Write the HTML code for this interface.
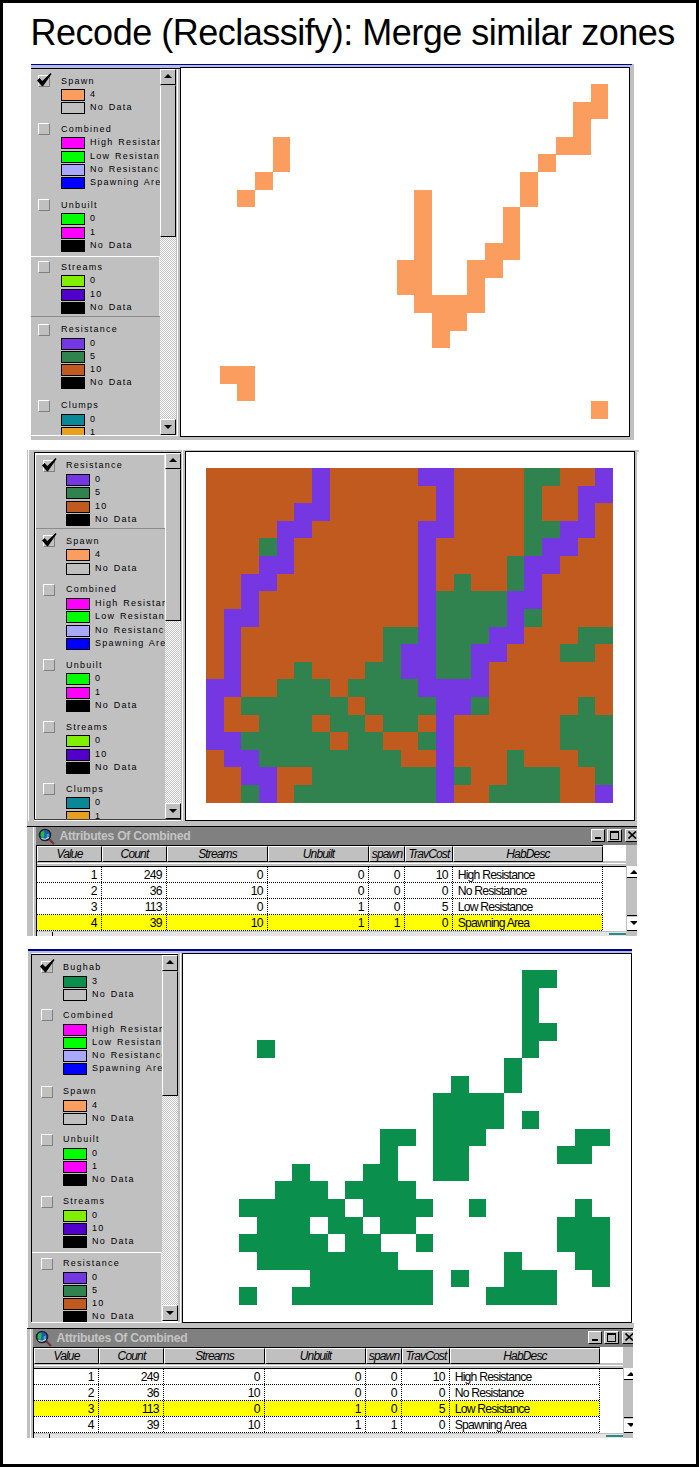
<!DOCTYPE html><html><head><meta charset="utf-8"><style>
html,body{margin:0;padding:0;}
body{width:699px;height:1467px;position:relative;overflow:hidden;background:#fff;font-family:"Liberation Sans",sans-serif;}
div{position:absolute;box-sizing:content-box;}
.t,.lt,.tt,.dt{white-space:nowrap;color:#000;}
.lt{font-size:9px;}
.dt{font-size:12.2px;line-height:12.2px;letter-spacing:-0.8px;}
.hd{background:#c0c0c0;}
.hi{text-align:center;font-style:italic;font-size:12px;letter-spacing:-0.85px;white-space:nowrap;color:#000;}

</style></head><body>
<div style="left:0px;top:0px;width:699px;height:3px;background:#000;"></div>
<div style="left:0px;top:1464px;width:699px;height:3px;background:#000;"></div>
<div style="left:0px;top:0px;width:3px;height:1467px;background:#000;"></div>
<div style="left:696px;top:0px;width:3px;height:1467px;background:#000;"></div>
<div class="t" style="left:30.6px;top:14.93px;font-size:36px;line-height:36px;letter-spacing:-0.5px">Recode (Reclassify): Merge similar zones</div>
<div style="left:630px;top:64px;width:4px;height:376px;background:#c0c0c0;"></div>
<div style="left:31px;top:64px;width:601px;height:1px;background:#000080;"></div>
<div style="left:31px;top:65px;width:601px;height:3px;background:#b4bce8;"></div>
<div style="left:31px;top:68px;width:599px;height:1px;background:#000;"></div>
<div style="left:31px;top:69px;width:129px;height:366px;background:#c0c0c0;overflow:hidden">
<div style="left:7px;top:5.8px;width:10px;height:10px;background:#c0c0c0;border-top:1px solid #fff;border-left:1px solid #fff;border-right:1px solid #808080;border-bottom:1px solid #808080"></div>
<svg style="position:absolute;left:6px;top:3.8px" width="15" height="14" viewBox="0 0 15 14"><path d="M0,7.6 L2.6,5.0 L5.3,8.0 L13.6,0 L14.5,0.9 L6.0,13.2 L5.0,13.2 Z" fill="#000"/></svg>
<div class="lt" style="left:30px;top:7.58px;font-size:9px;line-height:9px;letter-spacing:1.25px;word-spacing:1px">Spawn</div>
<div style="left:30px;top:20.1px;width:22px;height:10px;background:#fa9d5e;border:1px solid #000"></div>
<div class="lt" style="left:59px;top:21.28px;font-size:9px;line-height:9px;letter-spacing:1.25px;word-spacing:1px">4</div>
<div style="left:30px;top:33.3px;width:22px;height:10px;background:#c0c0c0;border:1px solid #000"></div>
<div class="lt" style="left:59px;top:34.45px;font-size:9px;line-height:9px;letter-spacing:1.25px;word-spacing:1px">No Data</div>
<div style="left:7px;top:54.0px;width:10px;height:10px;background:#c0c0c0;border-top:1px solid #fff;border-left:1px solid #fff;border-right:1px solid #808080;border-bottom:1px solid #808080"></div>
<div class="lt" style="left:30px;top:55.78px;font-size:9px;line-height:9px;letter-spacing:1.25px;word-spacing:1px">Combined</div>
<div style="left:30px;top:68.3px;width:22px;height:10px;background:#ff00ff;border:1px solid #000"></div>
<div class="lt" style="left:59px;top:69.48px;font-size:9px;line-height:9px;letter-spacing:1.25px;word-spacing:1px">High Resistance</div>
<div style="left:30px;top:81.5px;width:22px;height:10px;background:#00ff00;border:1px solid #000"></div>
<div class="lt" style="left:59px;top:82.65px;font-size:9px;line-height:9px;letter-spacing:1.25px;word-spacing:1px">Low Resistance</div>
<div style="left:30px;top:94.6px;width:22px;height:10px;background:#a8a8ff;border:1px solid #000"></div>
<div class="lt" style="left:59px;top:95.82px;font-size:9px;line-height:9px;letter-spacing:1.25px;word-spacing:1px">No Resistance</div>
<div style="left:30px;top:107.8px;width:22px;height:10px;background:#0000ff;border:1px solid #000"></div>
<div class="lt" style="left:59px;top:108.99px;font-size:9px;line-height:9px;letter-spacing:1.25px;word-spacing:1px">Spawning Area</div>
<div style="left:7px;top:130.0px;width:10px;height:10px;background:#c0c0c0;border-top:1px solid #fff;border-left:1px solid #fff;border-right:1px solid #808080;border-bottom:1px solid #808080"></div>
<div class="lt" style="left:30px;top:131.78px;font-size:9px;line-height:9px;letter-spacing:1.25px;word-spacing:1px">Unbuilt</div>
<div style="left:30px;top:144.3px;width:22px;height:10px;background:#00ff00;border:1px solid #000"></div>
<div class="lt" style="left:59px;top:145.48px;font-size:9px;line-height:9px;letter-spacing:1.25px;word-spacing:1px">0</div>
<div style="left:30px;top:157.5px;width:22px;height:10px;background:#ff00ff;border:1px solid #000"></div>
<div class="lt" style="left:59px;top:158.65px;font-size:9px;line-height:9px;letter-spacing:1.25px;word-spacing:1px">1</div>
<div style="left:30px;top:170.6px;width:22px;height:10px;background:#000000;border:1px solid #000"></div>
<div class="lt" style="left:59px;top:171.82px;font-size:9px;line-height:9px;letter-spacing:1.25px;word-spacing:1px">No Data</div>
<div style="left:0px;top:186.5px;width:129px;height:1px;background:#fff"></div>
<div style="left:0px;top:247.0px;width:129px;height:1px;background:#8c8c8c"></div>
<div style="left:128px;top:186.5px;width:1px;height:60.5px;background:#e8e8e8"></div>
<div style="left:7px;top:192.0px;width:10px;height:10px;background:#c0c0c0;border-top:1px solid #fff;border-left:1px solid #fff;border-right:1px solid #808080;border-bottom:1px solid #808080"></div>
<div class="lt" style="left:30px;top:193.78px;font-size:9px;line-height:9px;letter-spacing:1.25px;word-spacing:1px">Streams</div>
<div style="left:30px;top:206.3px;width:22px;height:10px;background:#80f000;border:1px solid #000"></div>
<div class="lt" style="left:59px;top:207.48px;font-size:9px;line-height:9px;letter-spacing:1.25px;word-spacing:1px">0</div>
<div style="left:30px;top:219.5px;width:22px;height:10px;background:#5000c8;border:1px solid #000"></div>
<div class="lt" style="left:59px;top:220.65px;font-size:9px;line-height:9px;letter-spacing:1.25px;word-spacing:1px">10</div>
<div style="left:30px;top:232.6px;width:22px;height:10px;background:#000000;border:1px solid #000"></div>
<div class="lt" style="left:59px;top:233.82px;font-size:9px;line-height:9px;letter-spacing:1.25px;word-spacing:1px">No Data</div>
<div style="left:7px;top:254.5px;width:10px;height:10px;background:#c0c0c0;border-top:1px solid #fff;border-left:1px solid #fff;border-right:1px solid #808080;border-bottom:1px solid #808080"></div>
<div class="lt" style="left:30px;top:256.28px;font-size:9px;line-height:9px;letter-spacing:1.25px;word-spacing:1px">Resistance</div>
<div style="left:30px;top:268.8px;width:22px;height:10px;background:#7537e2;border:1px solid #000"></div>
<div class="lt" style="left:59px;top:269.98px;font-size:9px;line-height:9px;letter-spacing:1.25px;word-spacing:1px">0</div>
<div style="left:30px;top:282.0px;width:22px;height:10px;background:#30824f;border:1px solid #000"></div>
<div class="lt" style="left:59px;top:283.15px;font-size:9px;line-height:9px;letter-spacing:1.25px;word-spacing:1px">5</div>
<div style="left:30px;top:295.1px;width:22px;height:10px;background:#c05a1f;border:1px solid #000"></div>
<div class="lt" style="left:59px;top:296.32px;font-size:9px;line-height:9px;letter-spacing:1.25px;word-spacing:1px">10</div>
<div style="left:30px;top:308.3px;width:22px;height:10px;background:#000000;border:1px solid #000"></div>
<div class="lt" style="left:59px;top:309.49px;font-size:9px;line-height:9px;letter-spacing:1.25px;word-spacing:1px">No Data</div>
<div style="left:7px;top:330.5px;width:10px;height:10px;background:#c0c0c0;border-top:1px solid #fff;border-left:1px solid #fff;border-right:1px solid #808080;border-bottom:1px solid #808080"></div>
<div class="lt" style="left:30px;top:332.28px;font-size:9px;line-height:9px;letter-spacing:1.25px;word-spacing:1px">Clumps</div>
<div style="left:30px;top:344.8px;width:22px;height:10px;background:#0a8898;border:1px solid #000"></div>
<div class="lt" style="left:59px;top:345.98px;font-size:9px;line-height:9px;letter-spacing:1.25px;word-spacing:1px">0</div>
<div style="left:30px;top:358.0px;width:22px;height:10px;background:#e8a020;border:1px solid #000"></div>
<div class="lt" style="left:59px;top:359.15px;font-size:9px;line-height:9px;letter-spacing:1.25px;word-spacing:1px">1</div>
<div style="left:30px;top:371.1px;width:22px;height:10px;background:#808080;border:1px solid #000"></div>
<div class="lt" style="left:59px;top:372.32px;font-size:9px;line-height:9px;letter-spacing:1.25px;word-spacing:1px">2</div>
</div>
<div style="left:160px;top:69px;width:16px;height:366px;background-color:#fff;background-image:linear-gradient(45deg,#c0c0c0 25%,transparent 25%,transparent 75%,#c0c0c0 75%),linear-gradient(45deg,#c0c0c0 25%,transparent 25%,transparent 75%,#c0c0c0 75%);background-size:2px 2px;background-position:0 0,1px 1px"></div>
<div style="left:160px;top:69px;width:14px;height:14px;background:#c0c0c0;border-top:1px solid #fff;border-left:1px solid #fff;border-right:1px solid #000;border-bottom:1px solid #000"></div>
<div style="left:164px;top:74px;width:0;height:0;border-left:4px solid transparent;border-right:4px solid transparent;border-bottom:4px solid #000"></div>
<div style="left:160px;top:85px;width:14px;height:150px;background:#c0c0c0;border-left:1px solid #fff;border-right:1px solid #000;border-bottom:1px solid #000;border-top:1px solid #c0c0c0"></div>
<div style="left:160px;top:419px;width:14px;height:14px;background:#c0c0c0;border-top:1px solid #fff;border-left:1px solid #fff;border-right:1px solid #000;border-bottom:1px solid #000"></div>
<div style="left:164px;top:425px;width:0;height:0;border-left:4px solid transparent;border-right:4px solid transparent;border-top:4px solid #000"></div>
<div style="left:176px;top:69px;width:4px;height:367px;background:#c0c0c0;"></div>
<div style="left:177px;top:69px;width:1px;height:367px;background:#fff;"></div>
<div style="left:31px;top:435px;width:147px;height:1px;background:#fff;"></div>
<div style="left:31px;top:436px;width:603px;height:4px;background:#c0c0c0;"></div>
<div style="left:180px;top:67px;width:450px;height:370px;background:#000;"></div>
<div style="left:181px;top:68px;width:448px;height:368px;background:#fff;"></div>
<svg style="position:absolute;left:201.7px;top:84.4px" width="406.7" height="334.8" viewBox="0 0 406.7 334.8" shape-rendering="crispEdges"><rect x="389.02" y="0.00" width="17.73" height="17.67" fill="#fa9d5e"/><rect x="371.33" y="17.62" width="17.73" height="17.67" fill="#fa9d5e"/><rect x="389.02" y="17.62" width="17.73" height="17.67" fill="#fa9d5e"/><rect x="371.33" y="35.24" width="17.73" height="17.67" fill="#fa9d5e"/><rect x="70.73" y="52.86" width="17.73" height="17.67" fill="#fa9d5e"/><rect x="353.65" y="52.86" width="17.73" height="17.67" fill="#fa9d5e"/><rect x="371.33" y="52.86" width="17.73" height="17.67" fill="#fa9d5e"/><rect x="70.73" y="70.48" width="17.73" height="17.67" fill="#fa9d5e"/><rect x="335.97" y="70.48" width="17.73" height="17.67" fill="#fa9d5e"/><rect x="53.05" y="88.11" width="17.73" height="17.67" fill="#fa9d5e"/><rect x="318.29" y="88.11" width="17.73" height="17.67" fill="#fa9d5e"/><rect x="35.37" y="105.73" width="17.73" height="17.67" fill="#fa9d5e"/><rect x="212.19" y="105.73" width="17.73" height="17.67" fill="#fa9d5e"/><rect x="318.29" y="105.73" width="17.73" height="17.67" fill="#fa9d5e"/><rect x="212.19" y="123.35" width="17.73" height="17.67" fill="#fa9d5e"/><rect x="300.60" y="123.35" width="17.73" height="17.67" fill="#fa9d5e"/><rect x="212.19" y="140.97" width="17.73" height="17.67" fill="#fa9d5e"/><rect x="300.60" y="140.97" width="17.73" height="17.67" fill="#fa9d5e"/><rect x="212.19" y="158.59" width="17.73" height="17.67" fill="#fa9d5e"/><rect x="282.92" y="158.59" width="17.73" height="17.67" fill="#fa9d5e"/><rect x="300.60" y="158.59" width="17.73" height="17.67" fill="#fa9d5e"/><rect x="194.51" y="176.21" width="17.73" height="17.67" fill="#fa9d5e"/><rect x="212.19" y="176.21" width="17.73" height="17.67" fill="#fa9d5e"/><rect x="265.24" y="176.21" width="17.73" height="17.67" fill="#fa9d5e"/><rect x="282.92" y="176.21" width="17.73" height="17.67" fill="#fa9d5e"/><rect x="194.51" y="193.83" width="17.73" height="17.67" fill="#fa9d5e"/><rect x="212.19" y="193.83" width="17.73" height="17.67" fill="#fa9d5e"/><rect x="265.24" y="193.83" width="17.73" height="17.67" fill="#fa9d5e"/><rect x="212.19" y="211.45" width="17.73" height="17.67" fill="#fa9d5e"/><rect x="229.87" y="211.45" width="17.73" height="17.67" fill="#fa9d5e"/><rect x="247.56" y="211.45" width="17.73" height="17.67" fill="#fa9d5e"/><rect x="265.24" y="211.45" width="17.73" height="17.67" fill="#fa9d5e"/><rect x="229.87" y="229.07" width="17.73" height="17.67" fill="#fa9d5e"/><rect x="247.56" y="229.07" width="17.73" height="17.67" fill="#fa9d5e"/><rect x="229.87" y="246.69" width="17.73" height="17.67" fill="#fa9d5e"/><rect x="17.68" y="281.94" width="17.73" height="17.67" fill="#fa9d5e"/><rect x="35.37" y="281.94" width="17.73" height="17.67" fill="#fa9d5e"/><rect x="35.37" y="299.56" width="17.73" height="17.67" fill="#fa9d5e"/><rect x="389.02" y="317.18" width="17.73" height="17.67" fill="#fa9d5e"/></svg>
<div style="left:27px;top:450px;width:612px;height:2px;background:#c0c0c0;"></div>
<div style="left:27px;top:450px;width:7px;height:376px;background:#c0c0c0;"></div>
<div style="left:28px;top:450px;width:1px;height:376px;background:#fff;"></div>
<div style="left:34px;top:452px;width:147px;height:1px;background:#000;"></div>
<div style="left:34px;top:452px;width:1px;height:368px;background:#000;"></div>
<div style="left:35px;top:453px;width:146px;height:1px;background:#fff;"></div>
<div style="left:35px;top:453px;width:1px;height:367px;background:#fff;"></div>
<div style="left:36px;top:454px;width:129px;height:365px;background:#c0c0c0;overflow:hidden">
<div style="left:0px;top:0.1px;width:129px;height:1px;background:#fff"></div>
<div style="left:0px;top:74.3px;width:129px;height:1px;background:#8c8c8c"></div>
<div style="left:128px;top:0.1px;width:1px;height:74.2px;background:#e8e8e8"></div>
<div style="left:7px;top:5.6px;width:10px;height:10px;background:#c0c0c0;border-top:1px solid #fff;border-left:1px solid #fff;border-right:1px solid #808080;border-bottom:1px solid #808080"></div>
<svg style="position:absolute;left:6px;top:3.6px" width="15" height="14" viewBox="0 0 15 14"><path d="M0,7.6 L2.6,5.0 L5.3,8.0 L13.6,0 L14.5,0.9 L6.0,13.2 L5.0,13.2 Z" fill="#000"/></svg>
<div class="lt" style="left:30px;top:7.38px;font-size:9px;line-height:9px;letter-spacing:1.25px;word-spacing:1px">Resistance</div>
<div style="left:30px;top:19.9px;width:22px;height:10px;background:#7537e2;border:1px solid #000"></div>
<div class="lt" style="left:59px;top:21.08px;font-size:9px;line-height:9px;letter-spacing:1.25px;word-spacing:1px">0</div>
<div style="left:30px;top:33.2px;width:22px;height:10px;background:#30824f;border:1px solid #000"></div>
<div class="lt" style="left:59px;top:34.38px;font-size:9px;line-height:9px;letter-spacing:1.25px;word-spacing:1px">5</div>
<div style="left:30px;top:46.5px;width:22px;height:10px;background:#c05a1f;border:1px solid #000"></div>
<div class="lt" style="left:59px;top:47.68px;font-size:9px;line-height:9px;letter-spacing:1.25px;word-spacing:1px">10</div>
<div style="left:30px;top:59.8px;width:22px;height:10px;background:#000000;border:1px solid #000"></div>
<div class="lt" style="left:59px;top:60.98px;font-size:9px;line-height:9px;letter-spacing:1.25px;word-spacing:1px">No Data</div>
<div style="left:7px;top:81.0px;width:10px;height:10px;background:#c0c0c0;border-top:1px solid #fff;border-left:1px solid #fff;border-right:1px solid #808080;border-bottom:1px solid #808080"></div>
<svg style="position:absolute;left:6px;top:79.0px" width="15" height="14" viewBox="0 0 15 14"><path d="M0,7.6 L2.6,5.0 L5.3,8.0 L13.6,0 L14.5,0.9 L6.0,13.2 L5.0,13.2 Z" fill="#000"/></svg>
<div class="lt" style="left:30px;top:82.78px;font-size:9px;line-height:9px;letter-spacing:1.25px;word-spacing:1px">Spawn</div>
<div style="left:30px;top:95.3px;width:22px;height:10px;background:#fa9d5e;border:1px solid #000"></div>
<div class="lt" style="left:59px;top:96.48px;font-size:9px;line-height:9px;letter-spacing:1.25px;word-spacing:1px">4</div>
<div style="left:30px;top:108.6px;width:22px;height:10px;background:#c0c0c0;border:1px solid #000"></div>
<div class="lt" style="left:59px;top:109.78px;font-size:9px;line-height:9px;letter-spacing:1.25px;word-spacing:1px">No Data</div>
<div style="left:7px;top:129.7px;width:10px;height:10px;background:#c0c0c0;border-top:1px solid #fff;border-left:1px solid #fff;border-right:1px solid #808080;border-bottom:1px solid #808080"></div>
<div class="lt" style="left:30px;top:131.48px;font-size:9px;line-height:9px;letter-spacing:1.25px;word-spacing:1px">Combined</div>
<div style="left:30px;top:144.0px;width:22px;height:10px;background:#ff00ff;border:1px solid #000"></div>
<div class="lt" style="left:59px;top:145.18px;font-size:9px;line-height:9px;letter-spacing:1.25px;word-spacing:1px">High Resistance</div>
<div style="left:30px;top:157.3px;width:22px;height:10px;background:#00ff00;border:1px solid #000"></div>
<div class="lt" style="left:59px;top:158.48px;font-size:9px;line-height:9px;letter-spacing:1.25px;word-spacing:1px">Low Resistance</div>
<div style="left:30px;top:170.6px;width:22px;height:10px;background:#a8a8ff;border:1px solid #000"></div>
<div class="lt" style="left:59px;top:171.78px;font-size:9px;line-height:9px;letter-spacing:1.25px;word-spacing:1px">No Resistance</div>
<div style="left:30px;top:183.9px;width:22px;height:10px;background:#0000ff;border:1px solid #000"></div>
<div class="lt" style="left:59px;top:185.08px;font-size:9px;line-height:9px;letter-spacing:1.25px;word-spacing:1px">Spawning Area</div>
<div style="left:7px;top:205.0px;width:10px;height:10px;background:#c0c0c0;border-top:1px solid #fff;border-left:1px solid #fff;border-right:1px solid #808080;border-bottom:1px solid #808080"></div>
<div class="lt" style="left:30px;top:206.78px;font-size:9px;line-height:9px;letter-spacing:1.25px;word-spacing:1px">Unbuilt</div>
<div style="left:30px;top:219.3px;width:22px;height:10px;background:#00ff00;border:1px solid #000"></div>
<div class="lt" style="left:59px;top:220.48px;font-size:9px;line-height:9px;letter-spacing:1.25px;word-spacing:1px">0</div>
<div style="left:30px;top:232.6px;width:22px;height:10px;background:#ff00ff;border:1px solid #000"></div>
<div class="lt" style="left:59px;top:233.78px;font-size:9px;line-height:9px;letter-spacing:1.25px;word-spacing:1px">1</div>
<div style="left:30px;top:245.9px;width:22px;height:10px;background:#000000;border:1px solid #000"></div>
<div class="lt" style="left:59px;top:247.08px;font-size:9px;line-height:9px;letter-spacing:1.25px;word-spacing:1px">No Data</div>
<div style="left:7px;top:267.0px;width:10px;height:10px;background:#c0c0c0;border-top:1px solid #fff;border-left:1px solid #fff;border-right:1px solid #808080;border-bottom:1px solid #808080"></div>
<div class="lt" style="left:30px;top:268.78px;font-size:9px;line-height:9px;letter-spacing:1.25px;word-spacing:1px">Streams</div>
<div style="left:30px;top:281.3px;width:22px;height:10px;background:#80f000;border:1px solid #000"></div>
<div class="lt" style="left:59px;top:282.48px;font-size:9px;line-height:9px;letter-spacing:1.25px;word-spacing:1px">0</div>
<div style="left:30px;top:294.6px;width:22px;height:10px;background:#5000c8;border:1px solid #000"></div>
<div class="lt" style="left:59px;top:295.78px;font-size:9px;line-height:9px;letter-spacing:1.25px;word-spacing:1px">10</div>
<div style="left:30px;top:307.9px;width:22px;height:10px;background:#000000;border:1px solid #000"></div>
<div class="lt" style="left:59px;top:309.08px;font-size:9px;line-height:9px;letter-spacing:1.25px;word-spacing:1px">No Data</div>
<div style="left:7px;top:329.0px;width:10px;height:10px;background:#c0c0c0;border-top:1px solid #fff;border-left:1px solid #fff;border-right:1px solid #808080;border-bottom:1px solid #808080"></div>
<div class="lt" style="left:30px;top:330.78px;font-size:9px;line-height:9px;letter-spacing:1.25px;word-spacing:1px">Clumps</div>
<div style="left:30px;top:343.3px;width:22px;height:10px;background:#0a8898;border:1px solid #000"></div>
<div class="lt" style="left:59px;top:344.48px;font-size:9px;line-height:9px;letter-spacing:1.25px;word-spacing:1px">0</div>
<div style="left:30px;top:356.6px;width:22px;height:10px;background:#e8a020;border:1px solid #000"></div>
<div class="lt" style="left:59px;top:357.78px;font-size:9px;line-height:9px;letter-spacing:1.25px;word-spacing:1px">1</div>
<div style="left:30px;top:369.9px;width:22px;height:10px;background:#808080;border:1px solid #000"></div>
<div class="lt" style="left:59px;top:371.08px;font-size:9px;line-height:9px;letter-spacing:1.25px;word-spacing:1px">2</div>
</div>
<div style="left:165px;top:453px;width:16px;height:366px;background-color:#fff;background-image:linear-gradient(45deg,#c0c0c0 25%,transparent 25%,transparent 75%,#c0c0c0 75%),linear-gradient(45deg,#c0c0c0 25%,transparent 25%,transparent 75%,#c0c0c0 75%);background-size:2px 2px;background-position:0 0,1px 1px"></div>
<div style="left:165px;top:453px;width:14px;height:14px;background:#c0c0c0;border-top:1px solid #fff;border-left:1px solid #fff;border-right:1px solid #000;border-bottom:1px solid #000"></div>
<div style="left:169px;top:458px;width:0;height:0;border-left:4px solid transparent;border-right:4px solid transparent;border-bottom:4px solid #000"></div>
<div style="left:165px;top:469px;width:14px;height:150px;background:#c0c0c0;border-left:1px solid #fff;border-right:1px solid #000;border-bottom:1px solid #000;border-top:1px solid #c0c0c0"></div>
<div style="left:165px;top:803px;width:14px;height:14px;background:#c0c0c0;border-top:1px solid #fff;border-left:1px solid #fff;border-right:1px solid #000;border-bottom:1px solid #000"></div>
<div style="left:169px;top:809px;width:0;height:0;border-left:4px solid transparent;border-right:4px solid transparent;border-top:4px solid #000"></div>
<div style="left:34px;top:819px;width:147px;height:1px;background:#404040;"></div>
<div style="left:181px;top:450px;width:4px;height:376px;background:#c0c0c0;"></div>
<div style="left:182px;top:450px;width:1px;height:376px;background:#fff;"></div>
<div style="left:185px;top:451px;width:450px;height:370px;background:#000;"></div>
<div style="left:186px;top:452px;width:448px;height:368px;background:#fff;"></div>
<div style="left:635px;top:451px;width:2px;height:375px;background:#c0c0c0;"></div>
<div style="left:27px;top:821px;width:610px;height:5px;background:#c0c0c0;"></div>
<svg style="position:absolute;left:206.1px;top:468px" width="406.9" height="334.7" viewBox="0 0 406.9 334.7" shape-rendering="crispEdges"><rect x="0.00" y="0.00" width="17.74" height="17.67" fill="#c05a1f"/><rect x="17.69" y="0.00" width="17.74" height="17.67" fill="#c05a1f"/><rect x="35.38" y="0.00" width="17.74" height="17.67" fill="#c05a1f"/><rect x="53.07" y="0.00" width="17.74" height="17.67" fill="#c05a1f"/><rect x="70.77" y="0.00" width="17.74" height="17.67" fill="#c05a1f"/><rect x="88.46" y="0.00" width="17.74" height="17.67" fill="#c05a1f"/><rect x="106.15" y="0.00" width="17.74" height="17.67" fill="#7537e2"/><rect x="123.84" y="0.00" width="17.74" height="17.67" fill="#c05a1f"/><rect x="141.53" y="0.00" width="17.74" height="17.67" fill="#c05a1f"/><rect x="159.22" y="0.00" width="17.74" height="17.67" fill="#c05a1f"/><rect x="176.91" y="0.00" width="17.74" height="17.67" fill="#c05a1f"/><rect x="194.60" y="0.00" width="17.74" height="17.67" fill="#c05a1f"/><rect x="212.30" y="0.00" width="17.74" height="17.67" fill="#7537e2"/><rect x="229.99" y="0.00" width="17.74" height="17.67" fill="#7537e2"/><rect x="247.68" y="0.00" width="17.74" height="17.67" fill="#c05a1f"/><rect x="265.37" y="0.00" width="17.74" height="17.67" fill="#c05a1f"/><rect x="283.06" y="0.00" width="17.74" height="17.67" fill="#c05a1f"/><rect x="300.75" y="0.00" width="17.74" height="17.67" fill="#c05a1f"/><rect x="318.44" y="0.00" width="17.74" height="17.67" fill="#30824f"/><rect x="336.13" y="0.00" width="17.74" height="17.67" fill="#30824f"/><rect x="353.83" y="0.00" width="17.74" height="17.67" fill="#c05a1f"/><rect x="371.52" y="0.00" width="17.74" height="17.67" fill="#c05a1f"/><rect x="389.21" y="0.00" width="17.74" height="17.67" fill="#7537e2"/><rect x="0.00" y="17.62" width="17.74" height="17.67" fill="#c05a1f"/><rect x="17.69" y="17.62" width="17.74" height="17.67" fill="#c05a1f"/><rect x="35.38" y="17.62" width="17.74" height="17.67" fill="#c05a1f"/><rect x="53.07" y="17.62" width="17.74" height="17.67" fill="#c05a1f"/><rect x="70.77" y="17.62" width="17.74" height="17.67" fill="#c05a1f"/><rect x="88.46" y="17.62" width="17.74" height="17.67" fill="#c05a1f"/><rect x="106.15" y="17.62" width="17.74" height="17.67" fill="#7537e2"/><rect x="123.84" y="17.62" width="17.74" height="17.67" fill="#c05a1f"/><rect x="141.53" y="17.62" width="17.74" height="17.67" fill="#c05a1f"/><rect x="159.22" y="17.62" width="17.74" height="17.67" fill="#c05a1f"/><rect x="176.91" y="17.62" width="17.74" height="17.67" fill="#c05a1f"/><rect x="194.60" y="17.62" width="17.74" height="17.67" fill="#c05a1f"/><rect x="212.30" y="17.62" width="17.74" height="17.67" fill="#c05a1f"/><rect x="229.99" y="17.62" width="17.74" height="17.67" fill="#7537e2"/><rect x="247.68" y="17.62" width="17.74" height="17.67" fill="#c05a1f"/><rect x="265.37" y="17.62" width="17.74" height="17.67" fill="#c05a1f"/><rect x="283.06" y="17.62" width="17.74" height="17.67" fill="#c05a1f"/><rect x="300.75" y="17.62" width="17.74" height="17.67" fill="#c05a1f"/><rect x="318.44" y="17.62" width="17.74" height="17.67" fill="#30824f"/><rect x="336.13" y="17.62" width="17.74" height="17.67" fill="#c05a1f"/><rect x="353.83" y="17.62" width="17.74" height="17.67" fill="#c05a1f"/><rect x="371.52" y="17.62" width="17.74" height="17.67" fill="#7537e2"/><rect x="389.21" y="17.62" width="17.74" height="17.67" fill="#7537e2"/><rect x="0.00" y="35.23" width="17.74" height="17.67" fill="#c05a1f"/><rect x="17.69" y="35.23" width="17.74" height="17.67" fill="#c05a1f"/><rect x="35.38" y="35.23" width="17.74" height="17.67" fill="#c05a1f"/><rect x="53.07" y="35.23" width="17.74" height="17.67" fill="#c05a1f"/><rect x="70.77" y="35.23" width="17.74" height="17.67" fill="#c05a1f"/><rect x="88.46" y="35.23" width="17.74" height="17.67" fill="#7537e2"/><rect x="106.15" y="35.23" width="17.74" height="17.67" fill="#7537e2"/><rect x="123.84" y="35.23" width="17.74" height="17.67" fill="#c05a1f"/><rect x="141.53" y="35.23" width="17.74" height="17.67" fill="#c05a1f"/><rect x="159.22" y="35.23" width="17.74" height="17.67" fill="#c05a1f"/><rect x="176.91" y="35.23" width="17.74" height="17.67" fill="#c05a1f"/><rect x="194.60" y="35.23" width="17.74" height="17.67" fill="#c05a1f"/><rect x="212.30" y="35.23" width="17.74" height="17.67" fill="#c05a1f"/><rect x="229.99" y="35.23" width="17.74" height="17.67" fill="#7537e2"/><rect x="247.68" y="35.23" width="17.74" height="17.67" fill="#c05a1f"/><rect x="265.37" y="35.23" width="17.74" height="17.67" fill="#c05a1f"/><rect x="283.06" y="35.23" width="17.74" height="17.67" fill="#c05a1f"/><rect x="300.75" y="35.23" width="17.74" height="17.67" fill="#c05a1f"/><rect x="318.44" y="35.23" width="17.74" height="17.67" fill="#30824f"/><rect x="336.13" y="35.23" width="17.74" height="17.67" fill="#c05a1f"/><rect x="353.83" y="35.23" width="17.74" height="17.67" fill="#c05a1f"/><rect x="371.52" y="35.23" width="17.74" height="17.67" fill="#7537e2"/><rect x="389.21" y="35.23" width="17.74" height="17.67" fill="#c05a1f"/><rect x="0.00" y="52.85" width="17.74" height="17.67" fill="#c05a1f"/><rect x="17.69" y="52.85" width="17.74" height="17.67" fill="#c05a1f"/><rect x="35.38" y="52.85" width="17.74" height="17.67" fill="#c05a1f"/><rect x="53.07" y="52.85" width="17.74" height="17.67" fill="#c05a1f"/><rect x="70.77" y="52.85" width="17.74" height="17.67" fill="#7537e2"/><rect x="88.46" y="52.85" width="17.74" height="17.67" fill="#7537e2"/><rect x="106.15" y="52.85" width="17.74" height="17.67" fill="#c05a1f"/><rect x="123.84" y="52.85" width="17.74" height="17.67" fill="#c05a1f"/><rect x="141.53" y="52.85" width="17.74" height="17.67" fill="#c05a1f"/><rect x="159.22" y="52.85" width="17.74" height="17.67" fill="#c05a1f"/><rect x="176.91" y="52.85" width="17.74" height="17.67" fill="#c05a1f"/><rect x="194.60" y="52.85" width="17.74" height="17.67" fill="#c05a1f"/><rect x="212.30" y="52.85" width="17.74" height="17.67" fill="#7537e2"/><rect x="229.99" y="52.85" width="17.74" height="17.67" fill="#7537e2"/><rect x="247.68" y="52.85" width="17.74" height="17.67" fill="#c05a1f"/><rect x="265.37" y="52.85" width="17.74" height="17.67" fill="#c05a1f"/><rect x="283.06" y="52.85" width="17.74" height="17.67" fill="#c05a1f"/><rect x="300.75" y="52.85" width="17.74" height="17.67" fill="#c05a1f"/><rect x="318.44" y="52.85" width="17.74" height="17.67" fill="#30824f"/><rect x="336.13" y="52.85" width="17.74" height="17.67" fill="#30824f"/><rect x="353.83" y="52.85" width="17.74" height="17.67" fill="#7537e2"/><rect x="371.52" y="52.85" width="17.74" height="17.67" fill="#7537e2"/><rect x="389.21" y="52.85" width="17.74" height="17.67" fill="#c05a1f"/><rect x="0.00" y="70.46" width="17.74" height="17.67" fill="#c05a1f"/><rect x="17.69" y="70.46" width="17.74" height="17.67" fill="#c05a1f"/><rect x="35.38" y="70.46" width="17.74" height="17.67" fill="#c05a1f"/><rect x="53.07" y="70.46" width="17.74" height="17.67" fill="#30824f"/><rect x="70.77" y="70.46" width="17.74" height="17.67" fill="#7537e2"/><rect x="88.46" y="70.46" width="17.74" height="17.67" fill="#c05a1f"/><rect x="106.15" y="70.46" width="17.74" height="17.67" fill="#c05a1f"/><rect x="123.84" y="70.46" width="17.74" height="17.67" fill="#c05a1f"/><rect x="141.53" y="70.46" width="17.74" height="17.67" fill="#c05a1f"/><rect x="159.22" y="70.46" width="17.74" height="17.67" fill="#c05a1f"/><rect x="176.91" y="70.46" width="17.74" height="17.67" fill="#c05a1f"/><rect x="194.60" y="70.46" width="17.74" height="17.67" fill="#c05a1f"/><rect x="212.30" y="70.46" width="17.74" height="17.67" fill="#7537e2"/><rect x="229.99" y="70.46" width="17.74" height="17.67" fill="#c05a1f"/><rect x="247.68" y="70.46" width="17.74" height="17.67" fill="#c05a1f"/><rect x="265.37" y="70.46" width="17.74" height="17.67" fill="#c05a1f"/><rect x="283.06" y="70.46" width="17.74" height="17.67" fill="#c05a1f"/><rect x="300.75" y="70.46" width="17.74" height="17.67" fill="#c05a1f"/><rect x="318.44" y="70.46" width="17.74" height="17.67" fill="#30824f"/><rect x="336.13" y="70.46" width="17.74" height="17.67" fill="#7537e2"/><rect x="353.83" y="70.46" width="17.74" height="17.67" fill="#7537e2"/><rect x="371.52" y="70.46" width="17.74" height="17.67" fill="#c05a1f"/><rect x="389.21" y="70.46" width="17.74" height="17.67" fill="#c05a1f"/><rect x="0.00" y="88.08" width="17.74" height="17.67" fill="#c05a1f"/><rect x="17.69" y="88.08" width="17.74" height="17.67" fill="#c05a1f"/><rect x="35.38" y="88.08" width="17.74" height="17.67" fill="#c05a1f"/><rect x="53.07" y="88.08" width="17.74" height="17.67" fill="#7537e2"/><rect x="70.77" y="88.08" width="17.74" height="17.67" fill="#7537e2"/><rect x="88.46" y="88.08" width="17.74" height="17.67" fill="#c05a1f"/><rect x="106.15" y="88.08" width="17.74" height="17.67" fill="#c05a1f"/><rect x="123.84" y="88.08" width="17.74" height="17.67" fill="#c05a1f"/><rect x="141.53" y="88.08" width="17.74" height="17.67" fill="#c05a1f"/><rect x="159.22" y="88.08" width="17.74" height="17.67" fill="#c05a1f"/><rect x="176.91" y="88.08" width="17.74" height="17.67" fill="#c05a1f"/><rect x="194.60" y="88.08" width="17.74" height="17.67" fill="#c05a1f"/><rect x="212.30" y="88.08" width="17.74" height="17.67" fill="#7537e2"/><rect x="229.99" y="88.08" width="17.74" height="17.67" fill="#c05a1f"/><rect x="247.68" y="88.08" width="17.74" height="17.67" fill="#c05a1f"/><rect x="265.37" y="88.08" width="17.74" height="17.67" fill="#c05a1f"/><rect x="283.06" y="88.08" width="17.74" height="17.67" fill="#c05a1f"/><rect x="300.75" y="88.08" width="17.74" height="17.67" fill="#30824f"/><rect x="318.44" y="88.08" width="17.74" height="17.67" fill="#7537e2"/><rect x="336.13" y="88.08" width="17.74" height="17.67" fill="#7537e2"/><rect x="353.83" y="88.08" width="17.74" height="17.67" fill="#c05a1f"/><rect x="371.52" y="88.08" width="17.74" height="17.67" fill="#c05a1f"/><rect x="389.21" y="88.08" width="17.74" height="17.67" fill="#c05a1f"/><rect x="0.00" y="105.69" width="17.74" height="17.67" fill="#c05a1f"/><rect x="17.69" y="105.69" width="17.74" height="17.67" fill="#c05a1f"/><rect x="35.38" y="105.69" width="17.74" height="17.67" fill="#7537e2"/><rect x="53.07" y="105.69" width="17.74" height="17.67" fill="#7537e2"/><rect x="70.77" y="105.69" width="17.74" height="17.67" fill="#c05a1f"/><rect x="88.46" y="105.69" width="17.74" height="17.67" fill="#c05a1f"/><rect x="106.15" y="105.69" width="17.74" height="17.67" fill="#c05a1f"/><rect x="123.84" y="105.69" width="17.74" height="17.67" fill="#c05a1f"/><rect x="141.53" y="105.69" width="17.74" height="17.67" fill="#c05a1f"/><rect x="159.22" y="105.69" width="17.74" height="17.67" fill="#c05a1f"/><rect x="176.91" y="105.69" width="17.74" height="17.67" fill="#c05a1f"/><rect x="194.60" y="105.69" width="17.74" height="17.67" fill="#c05a1f"/><rect x="212.30" y="105.69" width="17.74" height="17.67" fill="#7537e2"/><rect x="229.99" y="105.69" width="17.74" height="17.67" fill="#c05a1f"/><rect x="247.68" y="105.69" width="17.74" height="17.67" fill="#30824f"/><rect x="265.37" y="105.69" width="17.74" height="17.67" fill="#c05a1f"/><rect x="283.06" y="105.69" width="17.74" height="17.67" fill="#c05a1f"/><rect x="300.75" y="105.69" width="17.74" height="17.67" fill="#30824f"/><rect x="318.44" y="105.69" width="17.74" height="17.67" fill="#7537e2"/><rect x="336.13" y="105.69" width="17.74" height="17.67" fill="#c05a1f"/><rect x="353.83" y="105.69" width="17.74" height="17.67" fill="#c05a1f"/><rect x="371.52" y="105.69" width="17.74" height="17.67" fill="#c05a1f"/><rect x="389.21" y="105.69" width="17.74" height="17.67" fill="#c05a1f"/><rect x="0.00" y="123.31" width="17.74" height="17.67" fill="#c05a1f"/><rect x="17.69" y="123.31" width="17.74" height="17.67" fill="#c05a1f"/><rect x="35.38" y="123.31" width="17.74" height="17.67" fill="#7537e2"/><rect x="53.07" y="123.31" width="17.74" height="17.67" fill="#c05a1f"/><rect x="70.77" y="123.31" width="17.74" height="17.67" fill="#c05a1f"/><rect x="88.46" y="123.31" width="17.74" height="17.67" fill="#c05a1f"/><rect x="106.15" y="123.31" width="17.74" height="17.67" fill="#c05a1f"/><rect x="123.84" y="123.31" width="17.74" height="17.67" fill="#c05a1f"/><rect x="141.53" y="123.31" width="17.74" height="17.67" fill="#c05a1f"/><rect x="159.22" y="123.31" width="17.74" height="17.67" fill="#c05a1f"/><rect x="176.91" y="123.31" width="17.74" height="17.67" fill="#c05a1f"/><rect x="194.60" y="123.31" width="17.74" height="17.67" fill="#c05a1f"/><rect x="212.30" y="123.31" width="17.74" height="17.67" fill="#7537e2"/><rect x="229.99" y="123.31" width="17.74" height="17.67" fill="#30824f"/><rect x="247.68" y="123.31" width="17.74" height="17.67" fill="#30824f"/><rect x="265.37" y="123.31" width="17.74" height="17.67" fill="#30824f"/><rect x="283.06" y="123.31" width="17.74" height="17.67" fill="#30824f"/><rect x="300.75" y="123.31" width="17.74" height="17.67" fill="#7537e2"/><rect x="318.44" y="123.31" width="17.74" height="17.67" fill="#7537e2"/><rect x="336.13" y="123.31" width="17.74" height="17.67" fill="#c05a1f"/><rect x="353.83" y="123.31" width="17.74" height="17.67" fill="#c05a1f"/><rect x="371.52" y="123.31" width="17.74" height="17.67" fill="#c05a1f"/><rect x="389.21" y="123.31" width="17.74" height="17.67" fill="#c05a1f"/><rect x="0.00" y="140.93" width="17.74" height="17.67" fill="#c05a1f"/><rect x="17.69" y="140.93" width="17.74" height="17.67" fill="#7537e2"/><rect x="35.38" y="140.93" width="17.74" height="17.67" fill="#7537e2"/><rect x="53.07" y="140.93" width="17.74" height="17.67" fill="#c05a1f"/><rect x="70.77" y="140.93" width="17.74" height="17.67" fill="#c05a1f"/><rect x="88.46" y="140.93" width="17.74" height="17.67" fill="#c05a1f"/><rect x="106.15" y="140.93" width="17.74" height="17.67" fill="#c05a1f"/><rect x="123.84" y="140.93" width="17.74" height="17.67" fill="#c05a1f"/><rect x="141.53" y="140.93" width="17.74" height="17.67" fill="#c05a1f"/><rect x="159.22" y="140.93" width="17.74" height="17.67" fill="#c05a1f"/><rect x="176.91" y="140.93" width="17.74" height="17.67" fill="#c05a1f"/><rect x="194.60" y="140.93" width="17.74" height="17.67" fill="#c05a1f"/><rect x="212.30" y="140.93" width="17.74" height="17.67" fill="#7537e2"/><rect x="229.99" y="140.93" width="17.74" height="17.67" fill="#30824f"/><rect x="247.68" y="140.93" width="17.74" height="17.67" fill="#30824f"/><rect x="265.37" y="140.93" width="17.74" height="17.67" fill="#30824f"/><rect x="283.06" y="140.93" width="17.74" height="17.67" fill="#30824f"/><rect x="300.75" y="140.93" width="17.74" height="17.67" fill="#7537e2"/><rect x="318.44" y="140.93" width="17.74" height="17.67" fill="#30824f"/><rect x="336.13" y="140.93" width="17.74" height="17.67" fill="#c05a1f"/><rect x="353.83" y="140.93" width="17.74" height="17.67" fill="#c05a1f"/><rect x="371.52" y="140.93" width="17.74" height="17.67" fill="#c05a1f"/><rect x="389.21" y="140.93" width="17.74" height="17.67" fill="#c05a1f"/><rect x="0.00" y="158.54" width="17.74" height="17.67" fill="#c05a1f"/><rect x="17.69" y="158.54" width="17.74" height="17.67" fill="#7537e2"/><rect x="35.38" y="158.54" width="17.74" height="17.67" fill="#c05a1f"/><rect x="53.07" y="158.54" width="17.74" height="17.67" fill="#c05a1f"/><rect x="70.77" y="158.54" width="17.74" height="17.67" fill="#c05a1f"/><rect x="88.46" y="158.54" width="17.74" height="17.67" fill="#c05a1f"/><rect x="106.15" y="158.54" width="17.74" height="17.67" fill="#c05a1f"/><rect x="123.84" y="158.54" width="17.74" height="17.67" fill="#c05a1f"/><rect x="141.53" y="158.54" width="17.74" height="17.67" fill="#c05a1f"/><rect x="159.22" y="158.54" width="17.74" height="17.67" fill="#c05a1f"/><rect x="176.91" y="158.54" width="17.74" height="17.67" fill="#30824f"/><rect x="194.60" y="158.54" width="17.74" height="17.67" fill="#30824f"/><rect x="212.30" y="158.54" width="17.74" height="17.67" fill="#7537e2"/><rect x="229.99" y="158.54" width="17.74" height="17.67" fill="#30824f"/><rect x="247.68" y="158.54" width="17.74" height="17.67" fill="#30824f"/><rect x="265.37" y="158.54" width="17.74" height="17.67" fill="#30824f"/><rect x="283.06" y="158.54" width="17.74" height="17.67" fill="#7537e2"/><rect x="300.75" y="158.54" width="17.74" height="17.67" fill="#7537e2"/><rect x="318.44" y="158.54" width="17.74" height="17.67" fill="#c05a1f"/><rect x="336.13" y="158.54" width="17.74" height="17.67" fill="#c05a1f"/><rect x="353.83" y="158.54" width="17.74" height="17.67" fill="#c05a1f"/><rect x="371.52" y="158.54" width="17.74" height="17.67" fill="#30824f"/><rect x="389.21" y="158.54" width="17.74" height="17.67" fill="#30824f"/><rect x="0.00" y="176.16" width="17.74" height="17.67" fill="#c05a1f"/><rect x="17.69" y="176.16" width="17.74" height="17.67" fill="#7537e2"/><rect x="35.38" y="176.16" width="17.74" height="17.67" fill="#c05a1f"/><rect x="53.07" y="176.16" width="17.74" height="17.67" fill="#c05a1f"/><rect x="70.77" y="176.16" width="17.74" height="17.67" fill="#c05a1f"/><rect x="88.46" y="176.16" width="17.74" height="17.67" fill="#c05a1f"/><rect x="106.15" y="176.16" width="17.74" height="17.67" fill="#c05a1f"/><rect x="123.84" y="176.16" width="17.74" height="17.67" fill="#c05a1f"/><rect x="141.53" y="176.16" width="17.74" height="17.67" fill="#c05a1f"/><rect x="159.22" y="176.16" width="17.74" height="17.67" fill="#c05a1f"/><rect x="176.91" y="176.16" width="17.74" height="17.67" fill="#30824f"/><rect x="194.60" y="176.16" width="17.74" height="17.67" fill="#7537e2"/><rect x="212.30" y="176.16" width="17.74" height="17.67" fill="#7537e2"/><rect x="229.99" y="176.16" width="17.74" height="17.67" fill="#30824f"/><rect x="247.68" y="176.16" width="17.74" height="17.67" fill="#30824f"/><rect x="265.37" y="176.16" width="17.74" height="17.67" fill="#7537e2"/><rect x="283.06" y="176.16" width="17.74" height="17.67" fill="#7537e2"/><rect x="300.75" y="176.16" width="17.74" height="17.67" fill="#c05a1f"/><rect x="318.44" y="176.16" width="17.74" height="17.67" fill="#c05a1f"/><rect x="336.13" y="176.16" width="17.74" height="17.67" fill="#c05a1f"/><rect x="353.83" y="176.16" width="17.74" height="17.67" fill="#30824f"/><rect x="371.52" y="176.16" width="17.74" height="17.67" fill="#30824f"/><rect x="389.21" y="176.16" width="17.74" height="17.67" fill="#c05a1f"/><rect x="0.00" y="193.77" width="17.74" height="17.67" fill="#c05a1f"/><rect x="17.69" y="193.77" width="17.74" height="17.67" fill="#7537e2"/><rect x="35.38" y="193.77" width="17.74" height="17.67" fill="#c05a1f"/><rect x="53.07" y="193.77" width="17.74" height="17.67" fill="#c05a1f"/><rect x="70.77" y="193.77" width="17.74" height="17.67" fill="#c05a1f"/><rect x="88.46" y="193.77" width="17.74" height="17.67" fill="#30824f"/><rect x="106.15" y="193.77" width="17.74" height="17.67" fill="#c05a1f"/><rect x="123.84" y="193.77" width="17.74" height="17.67" fill="#c05a1f"/><rect x="141.53" y="193.77" width="17.74" height="17.67" fill="#c05a1f"/><rect x="159.22" y="193.77" width="17.74" height="17.67" fill="#30824f"/><rect x="176.91" y="193.77" width="17.74" height="17.67" fill="#30824f"/><rect x="194.60" y="193.77" width="17.74" height="17.67" fill="#7537e2"/><rect x="212.30" y="193.77" width="17.74" height="17.67" fill="#7537e2"/><rect x="229.99" y="193.77" width="17.74" height="17.67" fill="#30824f"/><rect x="247.68" y="193.77" width="17.74" height="17.67" fill="#30824f"/><rect x="265.37" y="193.77" width="17.74" height="17.67" fill="#7537e2"/><rect x="283.06" y="193.77" width="17.74" height="17.67" fill="#c05a1f"/><rect x="300.75" y="193.77" width="17.74" height="17.67" fill="#c05a1f"/><rect x="318.44" y="193.77" width="17.74" height="17.67" fill="#c05a1f"/><rect x="336.13" y="193.77" width="17.74" height="17.67" fill="#c05a1f"/><rect x="353.83" y="193.77" width="17.74" height="17.67" fill="#c05a1f"/><rect x="371.52" y="193.77" width="17.74" height="17.67" fill="#c05a1f"/><rect x="389.21" y="193.77" width="17.74" height="17.67" fill="#c05a1f"/><rect x="0.00" y="211.39" width="17.74" height="17.67" fill="#7537e2"/><rect x="17.69" y="211.39" width="17.74" height="17.67" fill="#7537e2"/><rect x="35.38" y="211.39" width="17.74" height="17.67" fill="#c05a1f"/><rect x="53.07" y="211.39" width="17.74" height="17.67" fill="#c05a1f"/><rect x="70.77" y="211.39" width="17.74" height="17.67" fill="#30824f"/><rect x="88.46" y="211.39" width="17.74" height="17.67" fill="#30824f"/><rect x="106.15" y="211.39" width="17.74" height="17.67" fill="#30824f"/><rect x="123.84" y="211.39" width="17.74" height="17.67" fill="#c05a1f"/><rect x="141.53" y="211.39" width="17.74" height="17.67" fill="#30824f"/><rect x="159.22" y="211.39" width="17.74" height="17.67" fill="#30824f"/><rect x="176.91" y="211.39" width="17.74" height="17.67" fill="#30824f"/><rect x="194.60" y="211.39" width="17.74" height="17.67" fill="#30824f"/><rect x="212.30" y="211.39" width="17.74" height="17.67" fill="#7537e2"/><rect x="229.99" y="211.39" width="17.74" height="17.67" fill="#7537e2"/><rect x="247.68" y="211.39" width="17.74" height="17.67" fill="#7537e2"/><rect x="265.37" y="211.39" width="17.74" height="17.67" fill="#7537e2"/><rect x="283.06" y="211.39" width="17.74" height="17.67" fill="#c05a1f"/><rect x="300.75" y="211.39" width="17.74" height="17.67" fill="#c05a1f"/><rect x="318.44" y="211.39" width="17.74" height="17.67" fill="#c05a1f"/><rect x="336.13" y="211.39" width="17.74" height="17.67" fill="#c05a1f"/><rect x="353.83" y="211.39" width="17.74" height="17.67" fill="#c05a1f"/><rect x="371.52" y="211.39" width="17.74" height="17.67" fill="#c05a1f"/><rect x="389.21" y="211.39" width="17.74" height="17.67" fill="#c05a1f"/><rect x="0.00" y="229.01" width="17.74" height="17.67" fill="#7537e2"/><rect x="17.69" y="229.01" width="17.74" height="17.67" fill="#c05a1f"/><rect x="35.38" y="229.01" width="17.74" height="17.67" fill="#30824f"/><rect x="53.07" y="229.01" width="17.74" height="17.67" fill="#30824f"/><rect x="70.77" y="229.01" width="17.74" height="17.67" fill="#30824f"/><rect x="88.46" y="229.01" width="17.74" height="17.67" fill="#30824f"/><rect x="106.15" y="229.01" width="17.74" height="17.67" fill="#30824f"/><rect x="123.84" y="229.01" width="17.74" height="17.67" fill="#30824f"/><rect x="141.53" y="229.01" width="17.74" height="17.67" fill="#c05a1f"/><rect x="159.22" y="229.01" width="17.74" height="17.67" fill="#30824f"/><rect x="176.91" y="229.01" width="17.74" height="17.67" fill="#30824f"/><rect x="194.60" y="229.01" width="17.74" height="17.67" fill="#30824f"/><rect x="212.30" y="229.01" width="17.74" height="17.67" fill="#30824f"/><rect x="229.99" y="229.01" width="17.74" height="17.67" fill="#7537e2"/><rect x="247.68" y="229.01" width="17.74" height="17.67" fill="#7537e2"/><rect x="265.37" y="229.01" width="17.74" height="17.67" fill="#30824f"/><rect x="283.06" y="229.01" width="17.74" height="17.67" fill="#c05a1f"/><rect x="300.75" y="229.01" width="17.74" height="17.67" fill="#c05a1f"/><rect x="318.44" y="229.01" width="17.74" height="17.67" fill="#c05a1f"/><rect x="336.13" y="229.01" width="17.74" height="17.67" fill="#c05a1f"/><rect x="353.83" y="229.01" width="17.74" height="17.67" fill="#c05a1f"/><rect x="371.52" y="229.01" width="17.74" height="17.67" fill="#30824f"/><rect x="389.21" y="229.01" width="17.74" height="17.67" fill="#c05a1f"/><rect x="0.00" y="246.62" width="17.74" height="17.67" fill="#7537e2"/><rect x="17.69" y="246.62" width="17.74" height="17.67" fill="#c05a1f"/><rect x="35.38" y="246.62" width="17.74" height="17.67" fill="#c05a1f"/><rect x="53.07" y="246.62" width="17.74" height="17.67" fill="#30824f"/><rect x="70.77" y="246.62" width="17.74" height="17.67" fill="#30824f"/><rect x="88.46" y="246.62" width="17.74" height="17.67" fill="#30824f"/><rect x="106.15" y="246.62" width="17.74" height="17.67" fill="#c05a1f"/><rect x="123.84" y="246.62" width="17.74" height="17.67" fill="#30824f"/><rect x="141.53" y="246.62" width="17.74" height="17.67" fill="#30824f"/><rect x="159.22" y="246.62" width="17.74" height="17.67" fill="#c05a1f"/><rect x="176.91" y="246.62" width="17.74" height="17.67" fill="#30824f"/><rect x="194.60" y="246.62" width="17.74" height="17.67" fill="#30824f"/><rect x="212.30" y="246.62" width="17.74" height="17.67" fill="#c05a1f"/><rect x="229.99" y="246.62" width="17.74" height="17.67" fill="#7537e2"/><rect x="247.68" y="246.62" width="17.74" height="17.67" fill="#c05a1f"/><rect x="265.37" y="246.62" width="17.74" height="17.67" fill="#c05a1f"/><rect x="283.06" y="246.62" width="17.74" height="17.67" fill="#c05a1f"/><rect x="300.75" y="246.62" width="17.74" height="17.67" fill="#c05a1f"/><rect x="318.44" y="246.62" width="17.74" height="17.67" fill="#c05a1f"/><rect x="336.13" y="246.62" width="17.74" height="17.67" fill="#c05a1f"/><rect x="353.83" y="246.62" width="17.74" height="17.67" fill="#30824f"/><rect x="371.52" y="246.62" width="17.74" height="17.67" fill="#30824f"/><rect x="389.21" y="246.62" width="17.74" height="17.67" fill="#30824f"/><rect x="0.00" y="264.24" width="17.74" height="17.67" fill="#7537e2"/><rect x="17.69" y="264.24" width="17.74" height="17.67" fill="#7537e2"/><rect x="35.38" y="264.24" width="17.74" height="17.67" fill="#30824f"/><rect x="53.07" y="264.24" width="17.74" height="17.67" fill="#30824f"/><rect x="70.77" y="264.24" width="17.74" height="17.67" fill="#30824f"/><rect x="88.46" y="264.24" width="17.74" height="17.67" fill="#30824f"/><rect x="106.15" y="264.24" width="17.74" height="17.67" fill="#30824f"/><rect x="123.84" y="264.24" width="17.74" height="17.67" fill="#c05a1f"/><rect x="141.53" y="264.24" width="17.74" height="17.67" fill="#30824f"/><rect x="159.22" y="264.24" width="17.74" height="17.67" fill="#30824f"/><rect x="176.91" y="264.24" width="17.74" height="17.67" fill="#c05a1f"/><rect x="194.60" y="264.24" width="17.74" height="17.67" fill="#c05a1f"/><rect x="212.30" y="264.24" width="17.74" height="17.67" fill="#30824f"/><rect x="229.99" y="264.24" width="17.74" height="17.67" fill="#7537e2"/><rect x="247.68" y="264.24" width="17.74" height="17.67" fill="#c05a1f"/><rect x="265.37" y="264.24" width="17.74" height="17.67" fill="#c05a1f"/><rect x="283.06" y="264.24" width="17.74" height="17.67" fill="#c05a1f"/><rect x="300.75" y="264.24" width="17.74" height="17.67" fill="#c05a1f"/><rect x="318.44" y="264.24" width="17.74" height="17.67" fill="#c05a1f"/><rect x="336.13" y="264.24" width="17.74" height="17.67" fill="#c05a1f"/><rect x="353.83" y="264.24" width="17.74" height="17.67" fill="#30824f"/><rect x="371.52" y="264.24" width="17.74" height="17.67" fill="#30824f"/><rect x="389.21" y="264.24" width="17.74" height="17.67" fill="#30824f"/><rect x="0.00" y="281.85" width="17.74" height="17.67" fill="#c05a1f"/><rect x="17.69" y="281.85" width="17.74" height="17.67" fill="#7537e2"/><rect x="35.38" y="281.85" width="17.74" height="17.67" fill="#7537e2"/><rect x="53.07" y="281.85" width="17.74" height="17.67" fill="#30824f"/><rect x="70.77" y="281.85" width="17.74" height="17.67" fill="#30824f"/><rect x="88.46" y="281.85" width="17.74" height="17.67" fill="#30824f"/><rect x="106.15" y="281.85" width="17.74" height="17.67" fill="#30824f"/><rect x="123.84" y="281.85" width="17.74" height="17.67" fill="#30824f"/><rect x="141.53" y="281.85" width="17.74" height="17.67" fill="#30824f"/><rect x="159.22" y="281.85" width="17.74" height="17.67" fill="#30824f"/><rect x="176.91" y="281.85" width="17.74" height="17.67" fill="#30824f"/><rect x="194.60" y="281.85" width="17.74" height="17.67" fill="#c05a1f"/><rect x="212.30" y="281.85" width="17.74" height="17.67" fill="#c05a1f"/><rect x="229.99" y="281.85" width="17.74" height="17.67" fill="#7537e2"/><rect x="247.68" y="281.85" width="17.74" height="17.67" fill="#c05a1f"/><rect x="265.37" y="281.85" width="17.74" height="17.67" fill="#c05a1f"/><rect x="283.06" y="281.85" width="17.74" height="17.67" fill="#c05a1f"/><rect x="300.75" y="281.85" width="17.74" height="17.67" fill="#30824f"/><rect x="318.44" y="281.85" width="17.74" height="17.67" fill="#c05a1f"/><rect x="336.13" y="281.85" width="17.74" height="17.67" fill="#c05a1f"/><rect x="353.83" y="281.85" width="17.74" height="17.67" fill="#c05a1f"/><rect x="371.52" y="281.85" width="17.74" height="17.67" fill="#30824f"/><rect x="389.21" y="281.85" width="17.74" height="17.67" fill="#30824f"/><rect x="0.00" y="299.47" width="17.74" height="17.67" fill="#c05a1f"/><rect x="17.69" y="299.47" width="17.74" height="17.67" fill="#c05a1f"/><rect x="35.38" y="299.47" width="17.74" height="17.67" fill="#7537e2"/><rect x="53.07" y="299.47" width="17.74" height="17.67" fill="#7537e2"/><rect x="70.77" y="299.47" width="17.74" height="17.67" fill="#c05a1f"/><rect x="88.46" y="299.47" width="17.74" height="17.67" fill="#c05a1f"/><rect x="106.15" y="299.47" width="17.74" height="17.67" fill="#30824f"/><rect x="123.84" y="299.47" width="17.74" height="17.67" fill="#30824f"/><rect x="141.53" y="299.47" width="17.74" height="17.67" fill="#30824f"/><rect x="159.22" y="299.47" width="17.74" height="17.67" fill="#30824f"/><rect x="176.91" y="299.47" width="17.74" height="17.67" fill="#30824f"/><rect x="194.60" y="299.47" width="17.74" height="17.67" fill="#30824f"/><rect x="212.30" y="299.47" width="17.74" height="17.67" fill="#30824f"/><rect x="229.99" y="299.47" width="17.74" height="17.67" fill="#7537e2"/><rect x="247.68" y="299.47" width="17.74" height="17.67" fill="#30824f"/><rect x="265.37" y="299.47" width="17.74" height="17.67" fill="#c05a1f"/><rect x="283.06" y="299.47" width="17.74" height="17.67" fill="#c05a1f"/><rect x="300.75" y="299.47" width="17.74" height="17.67" fill="#30824f"/><rect x="318.44" y="299.47" width="17.74" height="17.67" fill="#30824f"/><rect x="336.13" y="299.47" width="17.74" height="17.67" fill="#30824f"/><rect x="353.83" y="299.47" width="17.74" height="17.67" fill="#c05a1f"/><rect x="371.52" y="299.47" width="17.74" height="17.67" fill="#c05a1f"/><rect x="389.21" y="299.47" width="17.74" height="17.67" fill="#30824f"/><rect x="0.00" y="317.08" width="17.74" height="17.67" fill="#c05a1f"/><rect x="17.69" y="317.08" width="17.74" height="17.67" fill="#c05a1f"/><rect x="35.38" y="317.08" width="17.74" height="17.67" fill="#30824f"/><rect x="53.07" y="317.08" width="17.74" height="17.67" fill="#7537e2"/><rect x="70.77" y="317.08" width="17.74" height="17.67" fill="#c05a1f"/><rect x="88.46" y="317.08" width="17.74" height="17.67" fill="#30824f"/><rect x="106.15" y="317.08" width="17.74" height="17.67" fill="#30824f"/><rect x="123.84" y="317.08" width="17.74" height="17.67" fill="#30824f"/><rect x="141.53" y="317.08" width="17.74" height="17.67" fill="#30824f"/><rect x="159.22" y="317.08" width="17.74" height="17.67" fill="#30824f"/><rect x="176.91" y="317.08" width="17.74" height="17.67" fill="#30824f"/><rect x="194.60" y="317.08" width="17.74" height="17.67" fill="#30824f"/><rect x="212.30" y="317.08" width="17.74" height="17.67" fill="#30824f"/><rect x="229.99" y="317.08" width="17.74" height="17.67" fill="#7537e2"/><rect x="247.68" y="317.08" width="17.74" height="17.67" fill="#c05a1f"/><rect x="265.37" y="317.08" width="17.74" height="17.67" fill="#c05a1f"/><rect x="283.06" y="317.08" width="17.74" height="17.67" fill="#30824f"/><rect x="300.75" y="317.08" width="17.74" height="17.67" fill="#30824f"/><rect x="318.44" y="317.08" width="17.74" height="17.67" fill="#30824f"/><rect x="336.13" y="317.08" width="17.74" height="17.67" fill="#30824f"/><rect x="353.83" y="317.08" width="17.74" height="17.67" fill="#c05a1f"/><rect x="371.52" y="317.08" width="17.74" height="17.67" fill="#c05a1f"/><rect x="389.21" y="317.08" width="17.74" height="17.67" fill="#7537e2"/></svg>
<div style="left:27px;top:826px;width:610px;height:1px;background:#000;"></div>
<div style="left:27px;top:827px;width:6px;height:109px;background:#c0c0c0;"></div>
<div style="left:33px;top:827px;width:1px;height:109px;background:#fff;"></div>
<div style="left:34px;top:827px;width:2px;height:109px;background:#c0c0c0;"></div>
<div style="left:36px;top:827px;width:601px;height:109px;background:#c0c0c0;"></div>
<div style="left:36px;top:827px;width:601px;height:18px;background:#808080;"></div>
<svg style="position:absolute;left:37px;top:826.6px" width="20" height="20" viewBox="0 0 20 20"><line x1="11.5" y1="11.5" x2="17" y2="17" stroke="#7a3030" stroke-width="2.2"/><circle cx="8" cy="8" r="5.6" fill="#1f58b0" stroke="#202020" stroke-width="1.4"/><path d="M4.2,5 Q6,3.2 7.5,4.5 L7.2,9.5 L5.6,12 Q3,9 4.2,5 Z" fill="#20c040"/><path d="M9.5,7.5 L12,6.5 L11.6,10.5 L9.6,11.5 Z" fill="#38a8e0"/><path d="M4.5,11.5 Q8,13.5 12,10.5" stroke="#e8e8e8" stroke-width="1" fill="none"/></svg>
<div class="tt" style="left:59.5px;top:829.97px;font-size:12.2px;line-height:12.2px;font-weight:bold;color:#c4c4c4;letter-spacing:-0.3px">Attributes Of Combined</div>
<div style="left:591px;top:829px;width:14px;height:13px;overflow:hidden"><div style="left:0;top:0;width:12px;height:11px;background:#c0c0c0;border-top:1px solid #fff;border-left:1px solid #fff;border-right:1px solid #000;border-bottom:1px solid #000"></div>
<div style="left:4px;top:8px;width:6px;height:2px;background:#000"></div>
</div>
<div style="left:607px;top:829px;width:15px;height:13px;overflow:hidden"><div style="left:0;top:0;width:13px;height:11px;background:#c0c0c0;border-top:1px solid #fff;border-left:1px solid #fff;border-right:1px solid #000;border-bottom:1px solid #000"></div>
<div style="left:3px;top:2px;width:7px;height:6px;border:1px solid #000;border-top:2px solid #000"></div>
</div>
<div style="left:625px;top:829px;width:12px;height:13px;overflow:hidden"><div style="left:0;top:0;width:13px;height:11px;background:#c0c0c0;border-top:1px solid #fff;border-left:1px solid #fff;border-right:1px solid #000;border-bottom:1px solid #000"></div>
<svg style="position:absolute;left:3px;top:2px" width="9" height="8" viewBox="0 0 9 8"><path d="M0.5,0.5 L8,7.5 M8,0.5 L0.5,7.5" stroke="#000" stroke-width="1.6"/></svg>
</div>
<div style="left:36px;top:845px;width:590px;height:1px;background:#000;"></div>
<div style="left:36px;top:845px;width:1px;height:91px;background:#000;"></div>
<div class="hd" style="left:37px;top:846px;width:63px;height:14px;border-top:1px solid #fff;border-left:1px solid #fff;border-right:1px solid #000;border-bottom:1px solid #000;overflow:hidden"><div class="hi" style="left:0;top:0;width:63px;line-height:15px">Value</div></div>
<div class="hd" style="left:102px;top:846px;width:63px;height:14px;border-top:1px solid #fff;border-left:1px solid #fff;border-right:1px solid #000;border-bottom:1px solid #000;overflow:hidden"><div class="hi" style="left:0;top:0;width:63px;line-height:15px">Count</div></div>
<div class="hd" style="left:167px;top:846px;width:99px;height:14px;border-top:1px solid #fff;border-left:1px solid #fff;border-right:1px solid #000;border-bottom:1px solid #000;overflow:hidden"><div class="hi" style="left:0;top:0;width:99px;line-height:15px">Streams</div></div>
<div class="hd" style="left:268px;top:846px;width:99px;height:14px;border-top:1px solid #fff;border-left:1px solid #fff;border-right:1px solid #000;border-bottom:1px solid #000;overflow:hidden"><div class="hi" style="left:0;top:0;width:99px;line-height:15px">Unbuilt</div></div>
<div class="hd" style="left:369px;top:846px;width:34px;height:14px;border-top:1px solid #fff;border-left:1px solid #fff;border-right:1px solid #000;border-bottom:1px solid #000;overflow:hidden"><div class="hi" style="left:0;top:0;width:34px;line-height:15px">spawn</div></div>
<div class="hd" style="left:405px;top:846px;width:46px;height:14px;border-top:1px solid #fff;border-left:1px solid #fff;border-right:1px solid #000;border-bottom:1px solid #000;overflow:hidden"><div class="hi" style="left:0;top:0;width:46px;line-height:15px">TravCost</div></div>
<div class="hd" style="left:453px;top:846px;width:148px;height:14px;border-top:1px solid #fff;border-left:1px solid #fff;border-right:1px solid #000;border-bottom:1px solid #000;overflow:hidden"><div class="hi" style="left:0;top:0;width:148px;line-height:15px">HabDesc</div></div>
<div style="left:603px;top:845px;width:23px;height:16px;background:#fff;"></div>
<div style="left:37px;top:863px;width:589px;height:1px;background:#fff;"></div>
<div style="left:36px;top:866px;width:590px;height:1px;background:#000;"></div>
<div style="left:37px;top:867px;width:589px;height:65px;background:#fff;"></div>
<div style="left:37px;top:915px;width:565px;height:15px;background:#fff;"></div>
<div style="left:37px;top:915px;width:565px;height:15px;background:#ffff00;"></div>
<div class="dt" style="left:36.8px;top:868.5px;width:60px;text-align:right">1</div>
<div class="dt" style="left:101.8px;top:868.5px;width:60px;text-align:right">249</div>
<div class="dt" style="left:202.8px;top:868.5px;width:60px;text-align:right">0</div>
<div class="dt" style="left:303.8px;top:868.5px;width:60px;text-align:right">0</div>
<div class="dt" style="left:339.8px;top:868.5px;width:60px;text-align:right">0</div>
<div class="dt" style="left:387.8px;top:868.5px;width:60px;text-align:right">10</div>
<div class="dt" style="left:457.7px;top:868.5px">High Resistance</div>
<div class="dt" style="left:36.8px;top:884.5px;width:60px;text-align:right">2</div>
<div class="dt" style="left:101.8px;top:884.5px;width:60px;text-align:right">36</div>
<div class="dt" style="left:202.8px;top:884.5px;width:60px;text-align:right">10</div>
<div class="dt" style="left:303.8px;top:884.5px;width:60px;text-align:right">0</div>
<div class="dt" style="left:339.8px;top:884.5px;width:60px;text-align:right">0</div>
<div class="dt" style="left:387.8px;top:884.5px;width:60px;text-align:right">0</div>
<div class="dt" style="left:457.7px;top:884.5px">No Resistance</div>
<div class="dt" style="left:36.8px;top:900.5px;width:60px;text-align:right">3</div>
<div class="dt" style="left:101.8px;top:900.5px;width:60px;text-align:right">113</div>
<div class="dt" style="left:202.8px;top:900.5px;width:60px;text-align:right">0</div>
<div class="dt" style="left:303.8px;top:900.5px;width:60px;text-align:right">1</div>
<div class="dt" style="left:339.8px;top:900.5px;width:60px;text-align:right">0</div>
<div class="dt" style="left:387.8px;top:900.5px;width:60px;text-align:right">5</div>
<div class="dt" style="left:457.7px;top:900.5px">Low Resistance</div>
<div class="dt" style="left:36.8px;top:916.5px;width:60px;text-align:right">4</div>
<div class="dt" style="left:101.8px;top:916.5px;width:60px;text-align:right">39</div>
<div class="dt" style="left:202.8px;top:916.5px;width:60px;text-align:right">10</div>
<div class="dt" style="left:303.8px;top:916.5px;width:60px;text-align:right">1</div>
<div class="dt" style="left:339.8px;top:916.5px;width:60px;text-align:right">1</div>
<div class="dt" style="left:387.8px;top:916.5px;width:60px;text-align:right">0</div>
<div class="dt" style="left:457.7px;top:916.5px">Spawning Area</div>
<div style="left:37px;top:882px;width:566px;height:1px;background-image:linear-gradient(90deg,#000 50%,transparent 50%);background-size:2px 1px"></div>
<div style="left:37px;top:898px;width:566px;height:1px;background-image:linear-gradient(90deg,#000 50%,transparent 50%);background-size:2px 1px"></div>
<div style="left:37px;top:914px;width:566px;height:1px;background-image:linear-gradient(90deg,#000 50%,transparent 50%);background-size:2px 1px"></div>
<div style="left:37px;top:930px;width:566px;height:1px;background-image:linear-gradient(90deg,#000 50%,transparent 50%);background-size:2px 1px"></div>
<div style="left:101px;top:867px;width:1px;height:64px;background-image:linear-gradient(180deg,#000 50%,transparent 50%);background-size:1px 2px"></div>
<div style="left:166px;top:867px;width:1px;height:64px;background-image:linear-gradient(180deg,#000 50%,transparent 50%);background-size:1px 2px"></div>
<div style="left:267px;top:867px;width:1px;height:64px;background-image:linear-gradient(180deg,#000 50%,transparent 50%);background-size:1px 2px"></div>
<div style="left:368px;top:867px;width:1px;height:64px;background-image:linear-gradient(180deg,#000 50%,transparent 50%);background-size:1px 2px"></div>
<div style="left:404px;top:867px;width:1px;height:64px;background-image:linear-gradient(180deg,#000 50%,transparent 50%);background-size:1px 2px"></div>
<div style="left:452px;top:867px;width:1px;height:64px;background-image:linear-gradient(180deg,#000 50%,transparent 50%);background-size:1px 2px"></div>
<div style="left:602px;top:867px;width:1px;height:64px;background-image:linear-gradient(180deg,#000 50%,transparent 50%);background-size:1px 2px"></div>
<div style="left:627px;top:845px;width:10px;height:17px;background:#c0c0c0;"></div>
<div style="left:627px;top:866px;width:10px;height:66px;overflow:hidden"><div style="left:0;top:0;width:14px;height:11px;background:#fff;border-bottom:1px solid #000"></div><div style="left:3px;top:4px;width:0;height:0;border-left:4.5px solid transparent;border-right:4.5px solid transparent;border-bottom:4.5px solid #000"></div><div style="left:0;top:13px;width:14px;height:36px;background:#c0c0c0;border-bottom:1px solid #000"></div><div style="left:0;top:51px;width:14px;height:13px;background:#fff;border-bottom:1px solid #000"></div><div style="left:3px;top:55px;width:0;height:0;border-left:4.5px solid transparent;border-right:4.5px solid transparent;border-top:4.5px solid #000"></div></div>
<div style="left:37px;top:931px;width:589px;height:5px;background:#e4e4e4;border-top:1px solid #c0c0c0;box-sizing:border-box"></div>
<div style="left:609px;top:932.5px;width:17px;height:2px;background:#2a8a8a;"></div>
<div style="left:52px;top:932px;width:1px;height:4px;background:#000;"></div>
<div style="left:28px;top:949px;width:604px;height:2px;background:#000080;"></div>
<div style="left:28px;top:951px;width:604px;height:2px;background:#b4bce8;"></div>
<div style="left:28px;top:953px;width:4px;height:375px;background:#c0c0c0;"></div>
<div style="left:31px;top:954px;width:147px;height:1px;background:#000;"></div>
<div style="left:31px;top:954px;width:1px;height:368px;background:#000;"></div>
<div style="left:32px;top:955px;width:130px;height:367px;background:#c0c0c0;overflow:hidden">
<div style="left:9px;top:6.4px;width:10px;height:10px;background:#c0c0c0;border-top:1px solid #fff;border-left:1px solid #fff;border-right:1px solid #808080;border-bottom:1px solid #808080"></div>
<svg style="position:absolute;left:8px;top:4.4px" width="15" height="14" viewBox="0 0 15 14"><path d="M0,7.6 L2.6,5.0 L5.3,8.0 L13.6,0 L14.5,0.9 L6.0,13.2 L5.0,13.2 Z" fill="#000"/></svg>
<div class="lt" style="left:31px;top:8.18px;font-size:9px;line-height:9px;letter-spacing:1.25px;word-spacing:1px">Bughab</div>
<div style="left:31px;top:20.7px;width:22px;height:10px;background:#0b8f4c;border:1px solid #000"></div>
<div class="lt" style="left:60px;top:21.88px;font-size:9px;line-height:9px;letter-spacing:1.25px;word-spacing:1px">3</div>
<div style="left:31px;top:33.8px;width:22px;height:10px;background:#c0c0c0;border:1px solid #000"></div>
<div class="lt" style="left:60px;top:34.95px;font-size:9px;line-height:9px;letter-spacing:1.25px;word-spacing:1px">No Data</div>
<div style="left:9px;top:54.3px;width:10px;height:10px;background:#c0c0c0;border-top:1px solid #fff;border-left:1px solid #fff;border-right:1px solid #808080;border-bottom:1px solid #808080"></div>
<div class="lt" style="left:31px;top:56.08px;font-size:9px;line-height:9px;letter-spacing:1.25px;word-spacing:1px">Combined</div>
<div style="left:31px;top:68.6px;width:22px;height:10px;background:#ff00ff;border:1px solid #000"></div>
<div class="lt" style="left:60px;top:69.78px;font-size:9px;line-height:9px;letter-spacing:1.25px;word-spacing:1px">High Resistance</div>
<div style="left:31px;top:81.7px;width:22px;height:10px;background:#00ff00;border:1px solid #000"></div>
<div class="lt" style="left:60px;top:82.85px;font-size:9px;line-height:9px;letter-spacing:1.25px;word-spacing:1px">Low Resistance</div>
<div style="left:31px;top:94.7px;width:22px;height:10px;background:#a8a8ff;border:1px solid #000"></div>
<div class="lt" style="left:60px;top:95.92px;font-size:9px;line-height:9px;letter-spacing:1.25px;word-spacing:1px">No Resistance</div>
<div style="left:31px;top:107.8px;width:22px;height:10px;background:#0000ff;border:1px solid #000"></div>
<div class="lt" style="left:60px;top:108.99px;font-size:9px;line-height:9px;letter-spacing:1.25px;word-spacing:1px">Spawning Area</div>
<div style="left:9px;top:130.5px;width:10px;height:10px;background:#c0c0c0;border-top:1px solid #fff;border-left:1px solid #fff;border-right:1px solid #808080;border-bottom:1px solid #808080"></div>
<div class="lt" style="left:31px;top:132.28px;font-size:9px;line-height:9px;letter-spacing:1.25px;word-spacing:1px">Spawn</div>
<div style="left:31px;top:144.8px;width:22px;height:10px;background:#fa9d5e;border:1px solid #000"></div>
<div class="lt" style="left:60px;top:145.98px;font-size:9px;line-height:9px;letter-spacing:1.25px;word-spacing:1px">4</div>
<div style="left:31px;top:157.9px;width:22px;height:10px;background:#c0c0c0;border:1px solid #000"></div>
<div class="lt" style="left:60px;top:159.05px;font-size:9px;line-height:9px;letter-spacing:1.25px;word-spacing:1px">No Data</div>
<div style="left:9px;top:178.5px;width:10px;height:10px;background:#c0c0c0;border-top:1px solid #fff;border-left:1px solid #fff;border-right:1px solid #808080;border-bottom:1px solid #808080"></div>
<div class="lt" style="left:31px;top:180.28px;font-size:9px;line-height:9px;letter-spacing:1.25px;word-spacing:1px">Unbuilt</div>
<div style="left:31px;top:192.8px;width:22px;height:10px;background:#00ff00;border:1px solid #000"></div>
<div class="lt" style="left:60px;top:193.98px;font-size:9px;line-height:9px;letter-spacing:1.25px;word-spacing:1px">0</div>
<div style="left:31px;top:205.9px;width:22px;height:10px;background:#ff00ff;border:1px solid #000"></div>
<div class="lt" style="left:60px;top:207.05px;font-size:9px;line-height:9px;letter-spacing:1.25px;word-spacing:1px">1</div>
<div style="left:31px;top:218.9px;width:22px;height:10px;background:#000000;border:1px solid #000"></div>
<div class="lt" style="left:60px;top:220.12px;font-size:9px;line-height:9px;letter-spacing:1.25px;word-spacing:1px">No Data</div>
<div style="left:9px;top:240.6px;width:10px;height:10px;background:#c0c0c0;border-top:1px solid #fff;border-left:1px solid #fff;border-right:1px solid #808080;border-bottom:1px solid #808080"></div>
<div class="lt" style="left:31px;top:242.38px;font-size:9px;line-height:9px;letter-spacing:1.25px;word-spacing:1px">Streams</div>
<div style="left:31px;top:254.9px;width:22px;height:10px;background:#80f000;border:1px solid #000"></div>
<div class="lt" style="left:60px;top:256.08px;font-size:9px;line-height:9px;letter-spacing:1.25px;word-spacing:1px">0</div>
<div style="left:31px;top:268.0px;width:22px;height:10px;background:#5000c8;border:1px solid #000"></div>
<div class="lt" style="left:60px;top:269.15px;font-size:9px;line-height:9px;letter-spacing:1.25px;word-spacing:1px">10</div>
<div style="left:31px;top:281.0px;width:22px;height:10px;background:#000000;border:1px solid #000"></div>
<div class="lt" style="left:60px;top:282.22px;font-size:9px;line-height:9px;letter-spacing:1.25px;word-spacing:1px">No Data</div>
<div style="left:0px;top:297.1px;width:130px;height:1px;background:#fff"></div>
<div style="left:0px;top:370.4px;width:130px;height:1px;background:#8c8c8c"></div>
<div style="left:129px;top:297.1px;width:1px;height:73.3px;background:#e8e8e8"></div>
<div style="left:9px;top:302.6px;width:10px;height:10px;background:#c0c0c0;border-top:1px solid #fff;border-left:1px solid #fff;border-right:1px solid #808080;border-bottom:1px solid #808080"></div>
<div class="lt" style="left:31px;top:304.38px;font-size:9px;line-height:9px;letter-spacing:1.25px;word-spacing:1px">Resistance</div>
<div style="left:31px;top:316.9px;width:22px;height:10px;background:#7537e2;border:1px solid #000"></div>
<div class="lt" style="left:60px;top:318.08px;font-size:9px;line-height:9px;letter-spacing:1.25px;word-spacing:1px">0</div>
<div style="left:31px;top:330.0px;width:22px;height:10px;background:#30824f;border:1px solid #000"></div>
<div class="lt" style="left:60px;top:331.15px;font-size:9px;line-height:9px;letter-spacing:1.25px;word-spacing:1px">5</div>
<div style="left:31px;top:343.0px;width:22px;height:10px;background:#c05a1f;border:1px solid #000"></div>
<div class="lt" style="left:60px;top:344.22px;font-size:9px;line-height:9px;letter-spacing:1.25px;word-spacing:1px">10</div>
<div style="left:31px;top:356.1px;width:22px;height:10px;background:#000000;border:1px solid #000"></div>
<div class="lt" style="left:60px;top:357.29px;font-size:9px;line-height:9px;letter-spacing:1.25px;word-spacing:1px">No Data</div>
</div>
<div style="left:162px;top:955px;width:16px;height:366px;background-color:#fff;background-image:linear-gradient(45deg,#c0c0c0 25%,transparent 25%,transparent 75%,#c0c0c0 75%),linear-gradient(45deg,#c0c0c0 25%,transparent 25%,transparent 75%,#c0c0c0 75%);background-size:2px 2px;background-position:0 0,1px 1px"></div>
<div style="left:162px;top:955px;width:14px;height:14px;background:#c0c0c0;border-top:1px solid #fff;border-left:1px solid #fff;border-right:1px solid #000;border-bottom:1px solid #000"></div>
<div style="left:166px;top:960px;width:0;height:0;border-left:4px solid transparent;border-right:4px solid transparent;border-bottom:4px solid #000"></div>
<div style="left:162px;top:971px;width:14px;height:123px;background:#c0c0c0;border-left:1px solid #fff;border-right:1px solid #000;border-bottom:1px solid #000;border-top:1px solid #c0c0c0"></div>
<div style="left:162px;top:1305px;width:14px;height:14px;background:#c0c0c0;border-top:1px solid #fff;border-left:1px solid #fff;border-right:1px solid #000;border-bottom:1px solid #000"></div>
<div style="left:166px;top:1311px;width:0;height:0;border-left:4px solid transparent;border-right:4px solid transparent;border-top:4px solid #000"></div>
<div style="left:178px;top:953px;width:4px;height:370px;background:#c0c0c0;"></div>
<div style="left:180px;top:953px;width:1px;height:370px;background:#fff;"></div>
<div style="left:182px;top:953px;width:450px;height:370px;background:#000;"></div>
<div style="left:183px;top:954px;width:448px;height:368px;background:#fff;"></div>
<div style="left:31px;top:1322px;width:149px;height:1px;background:#fff;"></div>
<div style="left:28px;top:1323px;width:606px;height:5px;background:#c0c0c0;"></div>
<svg style="position:absolute;left:204px;top:970px" width="405.9" height="334.8" viewBox="0 0 405.9 334.8" shape-rendering="crispEdges"><rect x="317.66" y="0.00" width="17.70" height="17.67" fill="#0b8f4c"/><rect x="335.31" y="0.00" width="17.70" height="17.67" fill="#0b8f4c"/><rect x="317.66" y="17.62" width="17.70" height="17.67" fill="#0b8f4c"/><rect x="317.66" y="35.24" width="17.70" height="17.67" fill="#0b8f4c"/><rect x="317.66" y="52.86" width="17.70" height="17.67" fill="#0b8f4c"/><rect x="335.31" y="52.86" width="17.70" height="17.67" fill="#0b8f4c"/><rect x="52.94" y="70.48" width="17.70" height="17.67" fill="#0b8f4c"/><rect x="317.66" y="70.48" width="17.70" height="17.67" fill="#0b8f4c"/><rect x="300.01" y="88.11" width="17.70" height="17.67" fill="#0b8f4c"/><rect x="247.07" y="105.73" width="17.70" height="17.67" fill="#0b8f4c"/><rect x="300.01" y="105.73" width="17.70" height="17.67" fill="#0b8f4c"/><rect x="229.42" y="123.35" width="17.70" height="17.67" fill="#0b8f4c"/><rect x="247.07" y="123.35" width="17.70" height="17.67" fill="#0b8f4c"/><rect x="264.72" y="123.35" width="17.70" height="17.67" fill="#0b8f4c"/><rect x="282.37" y="123.35" width="17.70" height="17.67" fill="#0b8f4c"/><rect x="229.42" y="140.97" width="17.70" height="17.67" fill="#0b8f4c"/><rect x="247.07" y="140.97" width="17.70" height="17.67" fill="#0b8f4c"/><rect x="264.72" y="140.97" width="17.70" height="17.67" fill="#0b8f4c"/><rect x="282.37" y="140.97" width="17.70" height="17.67" fill="#0b8f4c"/><rect x="317.66" y="140.97" width="17.70" height="17.67" fill="#0b8f4c"/><rect x="176.48" y="158.59" width="17.70" height="17.67" fill="#0b8f4c"/><rect x="194.13" y="158.59" width="17.70" height="17.67" fill="#0b8f4c"/><rect x="229.42" y="158.59" width="17.70" height="17.67" fill="#0b8f4c"/><rect x="247.07" y="158.59" width="17.70" height="17.67" fill="#0b8f4c"/><rect x="264.72" y="158.59" width="17.70" height="17.67" fill="#0b8f4c"/><rect x="370.60" y="158.59" width="17.70" height="17.67" fill="#0b8f4c"/><rect x="388.25" y="158.59" width="17.70" height="17.67" fill="#0b8f4c"/><rect x="176.48" y="176.21" width="17.70" height="17.67" fill="#0b8f4c"/><rect x="229.42" y="176.21" width="17.70" height="17.67" fill="#0b8f4c"/><rect x="247.07" y="176.21" width="17.70" height="17.67" fill="#0b8f4c"/><rect x="352.96" y="176.21" width="17.70" height="17.67" fill="#0b8f4c"/><rect x="370.60" y="176.21" width="17.70" height="17.67" fill="#0b8f4c"/><rect x="88.24" y="193.83" width="17.70" height="17.67" fill="#0b8f4c"/><rect x="158.83" y="193.83" width="17.70" height="17.67" fill="#0b8f4c"/><rect x="176.48" y="193.83" width="17.70" height="17.67" fill="#0b8f4c"/><rect x="229.42" y="193.83" width="17.70" height="17.67" fill="#0b8f4c"/><rect x="247.07" y="193.83" width="17.70" height="17.67" fill="#0b8f4c"/><rect x="70.59" y="211.45" width="17.70" height="17.67" fill="#0b8f4c"/><rect x="88.24" y="211.45" width="17.70" height="17.67" fill="#0b8f4c"/><rect x="105.89" y="211.45" width="17.70" height="17.67" fill="#0b8f4c"/><rect x="141.18" y="211.45" width="17.70" height="17.67" fill="#0b8f4c"/><rect x="158.83" y="211.45" width="17.70" height="17.67" fill="#0b8f4c"/><rect x="176.48" y="211.45" width="17.70" height="17.67" fill="#0b8f4c"/><rect x="194.13" y="211.45" width="17.70" height="17.67" fill="#0b8f4c"/><rect x="35.30" y="229.07" width="17.70" height="17.67" fill="#0b8f4c"/><rect x="52.94" y="229.07" width="17.70" height="17.67" fill="#0b8f4c"/><rect x="70.59" y="229.07" width="17.70" height="17.67" fill="#0b8f4c"/><rect x="88.24" y="229.07" width="17.70" height="17.67" fill="#0b8f4c"/><rect x="105.89" y="229.07" width="17.70" height="17.67" fill="#0b8f4c"/><rect x="123.53" y="229.07" width="17.70" height="17.67" fill="#0b8f4c"/><rect x="158.83" y="229.07" width="17.70" height="17.67" fill="#0b8f4c"/><rect x="176.48" y="229.07" width="17.70" height="17.67" fill="#0b8f4c"/><rect x="194.13" y="229.07" width="17.70" height="17.67" fill="#0b8f4c"/><rect x="211.77" y="229.07" width="17.70" height="17.67" fill="#0b8f4c"/><rect x="264.72" y="229.07" width="17.70" height="17.67" fill="#0b8f4c"/><rect x="370.60" y="229.07" width="17.70" height="17.67" fill="#0b8f4c"/><rect x="52.94" y="246.69" width="17.70" height="17.67" fill="#0b8f4c"/><rect x="70.59" y="246.69" width="17.70" height="17.67" fill="#0b8f4c"/><rect x="88.24" y="246.69" width="17.70" height="17.67" fill="#0b8f4c"/><rect x="123.53" y="246.69" width="17.70" height="17.67" fill="#0b8f4c"/><rect x="141.18" y="246.69" width="17.70" height="17.67" fill="#0b8f4c"/><rect x="176.48" y="246.69" width="17.70" height="17.67" fill="#0b8f4c"/><rect x="194.13" y="246.69" width="17.70" height="17.67" fill="#0b8f4c"/><rect x="352.96" y="246.69" width="17.70" height="17.67" fill="#0b8f4c"/><rect x="370.60" y="246.69" width="17.70" height="17.67" fill="#0b8f4c"/><rect x="388.25" y="246.69" width="17.70" height="17.67" fill="#0b8f4c"/><rect x="35.30" y="264.32" width="17.70" height="17.67" fill="#0b8f4c"/><rect x="52.94" y="264.32" width="17.70" height="17.67" fill="#0b8f4c"/><rect x="70.59" y="264.32" width="17.70" height="17.67" fill="#0b8f4c"/><rect x="88.24" y="264.32" width="17.70" height="17.67" fill="#0b8f4c"/><rect x="105.89" y="264.32" width="17.70" height="17.67" fill="#0b8f4c"/><rect x="141.18" y="264.32" width="17.70" height="17.67" fill="#0b8f4c"/><rect x="158.83" y="264.32" width="17.70" height="17.67" fill="#0b8f4c"/><rect x="211.77" y="264.32" width="17.70" height="17.67" fill="#0b8f4c"/><rect x="352.96" y="264.32" width="17.70" height="17.67" fill="#0b8f4c"/><rect x="370.60" y="264.32" width="17.70" height="17.67" fill="#0b8f4c"/><rect x="388.25" y="264.32" width="17.70" height="17.67" fill="#0b8f4c"/><rect x="52.94" y="281.94" width="17.70" height="17.67" fill="#0b8f4c"/><rect x="70.59" y="281.94" width="17.70" height="17.67" fill="#0b8f4c"/><rect x="88.24" y="281.94" width="17.70" height="17.67" fill="#0b8f4c"/><rect x="105.89" y="281.94" width="17.70" height="17.67" fill="#0b8f4c"/><rect x="123.53" y="281.94" width="17.70" height="17.67" fill="#0b8f4c"/><rect x="141.18" y="281.94" width="17.70" height="17.67" fill="#0b8f4c"/><rect x="158.83" y="281.94" width="17.70" height="17.67" fill="#0b8f4c"/><rect x="176.48" y="281.94" width="17.70" height="17.67" fill="#0b8f4c"/><rect x="300.01" y="281.94" width="17.70" height="17.67" fill="#0b8f4c"/><rect x="370.60" y="281.94" width="17.70" height="17.67" fill="#0b8f4c"/><rect x="388.25" y="281.94" width="17.70" height="17.67" fill="#0b8f4c"/><rect x="105.89" y="299.56" width="17.70" height="17.67" fill="#0b8f4c"/><rect x="123.53" y="299.56" width="17.70" height="17.67" fill="#0b8f4c"/><rect x="141.18" y="299.56" width="17.70" height="17.67" fill="#0b8f4c"/><rect x="158.83" y="299.56" width="17.70" height="17.67" fill="#0b8f4c"/><rect x="176.48" y="299.56" width="17.70" height="17.67" fill="#0b8f4c"/><rect x="194.13" y="299.56" width="17.70" height="17.67" fill="#0b8f4c"/><rect x="211.77" y="299.56" width="17.70" height="17.67" fill="#0b8f4c"/><rect x="247.07" y="299.56" width="17.70" height="17.67" fill="#0b8f4c"/><rect x="300.01" y="299.56" width="17.70" height="17.67" fill="#0b8f4c"/><rect x="317.66" y="299.56" width="17.70" height="17.67" fill="#0b8f4c"/><rect x="335.31" y="299.56" width="17.70" height="17.67" fill="#0b8f4c"/><rect x="388.25" y="299.56" width="17.70" height="17.67" fill="#0b8f4c"/><rect x="35.30" y="317.18" width="17.70" height="17.67" fill="#0b8f4c"/><rect x="88.24" y="317.18" width="17.70" height="17.67" fill="#0b8f4c"/><rect x="105.89" y="317.18" width="17.70" height="17.67" fill="#0b8f4c"/><rect x="123.53" y="317.18" width="17.70" height="17.67" fill="#0b8f4c"/><rect x="141.18" y="317.18" width="17.70" height="17.67" fill="#0b8f4c"/><rect x="158.83" y="317.18" width="17.70" height="17.67" fill="#0b8f4c"/><rect x="176.48" y="317.18" width="17.70" height="17.67" fill="#0b8f4c"/><rect x="194.13" y="317.18" width="17.70" height="17.67" fill="#0b8f4c"/><rect x="211.77" y="317.18" width="17.70" height="17.67" fill="#0b8f4c"/><rect x="282.37" y="317.18" width="17.70" height="17.67" fill="#0b8f4c"/><rect x="300.01" y="317.18" width="17.70" height="17.67" fill="#0b8f4c"/><rect x="317.66" y="317.18" width="17.70" height="17.67" fill="#0b8f4c"/><rect x="335.31" y="317.18" width="17.70" height="17.67" fill="#0b8f4c"/></svg>
<div style="left:27px;top:1328px;width:606px;height:1px;background:#000;"></div>
<div style="left:27px;top:1329px;width:3px;height:109px;background:#c0c0c0;"></div>
<div style="left:30px;top:1329px;width:1px;height:109px;background:#fff;"></div>
<div style="left:31px;top:1329px;width:2px;height:109px;background:#c0c0c0;"></div>
<div style="left:33px;top:1329px;width:600px;height:109px;background:#c0c0c0;"></div>
<div style="left:33px;top:1329px;width:600px;height:18px;background:#808080;"></div>
<svg style="position:absolute;left:34px;top:1328.6px" width="20" height="20" viewBox="0 0 20 20"><line x1="11.5" y1="11.5" x2="17" y2="17" stroke="#7a3030" stroke-width="2.2"/><circle cx="8" cy="8" r="5.6" fill="#1f58b0" stroke="#202020" stroke-width="1.4"/><path d="M4.2,5 Q6,3.2 7.5,4.5 L7.2,9.5 L5.6,12 Q3,9 4.2,5 Z" fill="#20c040"/><path d="M9.5,7.5 L12,6.5 L11.6,10.5 L9.6,11.5 Z" fill="#38a8e0"/><path d="M4.5,11.5 Q8,13.5 12,10.5" stroke="#e8e8e8" stroke-width="1" fill="none"/></svg>
<div class="tt" style="left:56.5px;top:1331.97px;font-size:12.2px;line-height:12.2px;font-weight:bold;color:#c4c4c4;letter-spacing:-0.3px">Attributes Of Combined</div>
<div style="left:588px;top:1331px;width:14px;height:13px;overflow:hidden"><div style="left:0;top:0;width:12px;height:11px;background:#c0c0c0;border-top:1px solid #fff;border-left:1px solid #fff;border-right:1px solid #000;border-bottom:1px solid #000"></div>
<div style="left:4px;top:8px;width:6px;height:2px;background:#000"></div>
</div>
<div style="left:604px;top:1331px;width:15px;height:13px;overflow:hidden"><div style="left:0;top:0;width:13px;height:11px;background:#c0c0c0;border-top:1px solid #fff;border-left:1px solid #fff;border-right:1px solid #000;border-bottom:1px solid #000"></div>
<div style="left:3px;top:2px;width:7px;height:6px;border:1px solid #000;border-top:2px solid #000"></div>
</div>
<div style="left:622px;top:1331px;width:11px;height:13px;overflow:hidden"><div style="left:0;top:0;width:13px;height:11px;background:#c0c0c0;border-top:1px solid #fff;border-left:1px solid #fff;border-right:1px solid #000;border-bottom:1px solid #000"></div>
<svg style="position:absolute;left:3px;top:2px" width="9" height="8" viewBox="0 0 9 8"><path d="M0.5,0.5 L8,7.5 M8,0.5 L0.5,7.5" stroke="#000" stroke-width="1.6"/></svg>
</div>
<div style="left:33px;top:1347px;width:590px;height:1px;background:#000;"></div>
<div style="left:33px;top:1347px;width:1px;height:91px;background:#000;"></div>
<div class="hd" style="left:34px;top:1348px;width:63px;height:14px;border-top:1px solid #fff;border-left:1px solid #fff;border-right:1px solid #000;border-bottom:1px solid #000;overflow:hidden"><div class="hi" style="left:0;top:0;width:63px;line-height:15px">Value</div></div>
<div class="hd" style="left:99px;top:1348px;width:63px;height:14px;border-top:1px solid #fff;border-left:1px solid #fff;border-right:1px solid #000;border-bottom:1px solid #000;overflow:hidden"><div class="hi" style="left:0;top:0;width:63px;line-height:15px">Count</div></div>
<div class="hd" style="left:164px;top:1348px;width:99px;height:14px;border-top:1px solid #fff;border-left:1px solid #fff;border-right:1px solid #000;border-bottom:1px solid #000;overflow:hidden"><div class="hi" style="left:0;top:0;width:99px;line-height:15px">Streams</div></div>
<div class="hd" style="left:265px;top:1348px;width:99px;height:14px;border-top:1px solid #fff;border-left:1px solid #fff;border-right:1px solid #000;border-bottom:1px solid #000;overflow:hidden"><div class="hi" style="left:0;top:0;width:99px;line-height:15px">Unbuilt</div></div>
<div class="hd" style="left:366px;top:1348px;width:34px;height:14px;border-top:1px solid #fff;border-left:1px solid #fff;border-right:1px solid #000;border-bottom:1px solid #000;overflow:hidden"><div class="hi" style="left:0;top:0;width:34px;line-height:15px">spawn</div></div>
<div class="hd" style="left:402px;top:1348px;width:46px;height:14px;border-top:1px solid #fff;border-left:1px solid #fff;border-right:1px solid #000;border-bottom:1px solid #000;overflow:hidden"><div class="hi" style="left:0;top:0;width:46px;line-height:15px">TravCost</div></div>
<div class="hd" style="left:450px;top:1348px;width:148px;height:14px;border-top:1px solid #fff;border-left:1px solid #fff;border-right:1px solid #000;border-bottom:1px solid #000;overflow:hidden"><div class="hi" style="left:0;top:0;width:148px;line-height:15px">HabDesc</div></div>
<div style="left:600px;top:1347px;width:23px;height:16px;background:#fff;"></div>
<div style="left:34px;top:1365px;width:589px;height:1px;background:#fff;"></div>
<div style="left:33px;top:1368px;width:590px;height:1px;background:#000;"></div>
<div style="left:34px;top:1369px;width:589px;height:65px;background:#fff;"></div>
<div style="left:34px;top:1417px;width:565px;height:15px;background:#fff;"></div>
<div style="left:34px;top:1401px;width:565px;height:15px;background:#ffff00;"></div>
<div class="dt" style="left:33.8px;top:1370.5px;width:60px;text-align:right">1</div>
<div class="dt" style="left:98.8px;top:1370.5px;width:60px;text-align:right">249</div>
<div class="dt" style="left:199.8px;top:1370.5px;width:60px;text-align:right">0</div>
<div class="dt" style="left:300.8px;top:1370.5px;width:60px;text-align:right">0</div>
<div class="dt" style="left:336.8px;top:1370.5px;width:60px;text-align:right">0</div>
<div class="dt" style="left:384.8px;top:1370.5px;width:60px;text-align:right">10</div>
<div class="dt" style="left:454.7px;top:1370.5px">High Resistance</div>
<div class="dt" style="left:33.8px;top:1386.5px;width:60px;text-align:right">2</div>
<div class="dt" style="left:98.8px;top:1386.5px;width:60px;text-align:right">36</div>
<div class="dt" style="left:199.8px;top:1386.5px;width:60px;text-align:right">10</div>
<div class="dt" style="left:300.8px;top:1386.5px;width:60px;text-align:right">0</div>
<div class="dt" style="left:336.8px;top:1386.5px;width:60px;text-align:right">0</div>
<div class="dt" style="left:384.8px;top:1386.5px;width:60px;text-align:right">0</div>
<div class="dt" style="left:454.7px;top:1386.5px">No Resistance</div>
<div class="dt" style="left:33.8px;top:1402.5px;width:60px;text-align:right">3</div>
<div class="dt" style="left:98.8px;top:1402.5px;width:60px;text-align:right">113</div>
<div class="dt" style="left:199.8px;top:1402.5px;width:60px;text-align:right">0</div>
<div class="dt" style="left:300.8px;top:1402.5px;width:60px;text-align:right">1</div>
<div class="dt" style="left:336.8px;top:1402.5px;width:60px;text-align:right">0</div>
<div class="dt" style="left:384.8px;top:1402.5px;width:60px;text-align:right">5</div>
<div class="dt" style="left:454.7px;top:1402.5px">Low Resistance</div>
<div class="dt" style="left:33.8px;top:1418.5px;width:60px;text-align:right">4</div>
<div class="dt" style="left:98.8px;top:1418.5px;width:60px;text-align:right">39</div>
<div class="dt" style="left:199.8px;top:1418.5px;width:60px;text-align:right">10</div>
<div class="dt" style="left:300.8px;top:1418.5px;width:60px;text-align:right">1</div>
<div class="dt" style="left:336.8px;top:1418.5px;width:60px;text-align:right">1</div>
<div class="dt" style="left:384.8px;top:1418.5px;width:60px;text-align:right">0</div>
<div class="dt" style="left:454.7px;top:1418.5px">Spawning Area</div>
<div style="left:34px;top:1384px;width:566px;height:1px;background-image:linear-gradient(90deg,#000 50%,transparent 50%);background-size:2px 1px"></div>
<div style="left:34px;top:1400px;width:566px;height:1px;background-image:linear-gradient(90deg,#000 50%,transparent 50%);background-size:2px 1px"></div>
<div style="left:34px;top:1416px;width:566px;height:1px;background-image:linear-gradient(90deg,#000 50%,transparent 50%);background-size:2px 1px"></div>
<div style="left:34px;top:1432px;width:566px;height:1px;background-image:linear-gradient(90deg,#000 50%,transparent 50%);background-size:2px 1px"></div>
<div style="left:98px;top:1369px;width:1px;height:64px;background-image:linear-gradient(180deg,#000 50%,transparent 50%);background-size:1px 2px"></div>
<div style="left:163px;top:1369px;width:1px;height:64px;background-image:linear-gradient(180deg,#000 50%,transparent 50%);background-size:1px 2px"></div>
<div style="left:264px;top:1369px;width:1px;height:64px;background-image:linear-gradient(180deg,#000 50%,transparent 50%);background-size:1px 2px"></div>
<div style="left:365px;top:1369px;width:1px;height:64px;background-image:linear-gradient(180deg,#000 50%,transparent 50%);background-size:1px 2px"></div>
<div style="left:401px;top:1369px;width:1px;height:64px;background-image:linear-gradient(180deg,#000 50%,transparent 50%);background-size:1px 2px"></div>
<div style="left:449px;top:1369px;width:1px;height:64px;background-image:linear-gradient(180deg,#000 50%,transparent 50%);background-size:1px 2px"></div>
<div style="left:599px;top:1369px;width:1px;height:64px;background-image:linear-gradient(180deg,#000 50%,transparent 50%);background-size:1px 2px"></div>
<div style="left:624px;top:1347px;width:9px;height:17px;background:#c0c0c0;"></div>
<div style="left:624px;top:1368px;width:9px;height:66px;overflow:hidden"><div style="left:0;top:0;width:14px;height:11px;background:#fff;border-bottom:1px solid #000"></div><div style="left:3px;top:4px;width:0;height:0;border-left:4.5px solid transparent;border-right:4.5px solid transparent;border-bottom:4.5px solid #000"></div><div style="left:0;top:13px;width:14px;height:36px;background:#c0c0c0;border-bottom:1px solid #000"></div><div style="left:0;top:51px;width:14px;height:13px;background:#fff;border-bottom:1px solid #000"></div><div style="left:3px;top:55px;width:0;height:0;border-left:4.5px solid transparent;border-right:4.5px solid transparent;border-top:4.5px solid #000"></div></div>
<div style="left:34px;top:1433px;width:589px;height:5px;background:#e4e4e4;border-top:1px solid #c0c0c0;box-sizing:border-box"></div>
<div style="left:606px;top:1434.5px;width:17px;height:2px;background:#2a8a8a;"></div>
<div style="left:49px;top:1434px;width:1px;height:4px;background:#000;"></div>
</body></html>
